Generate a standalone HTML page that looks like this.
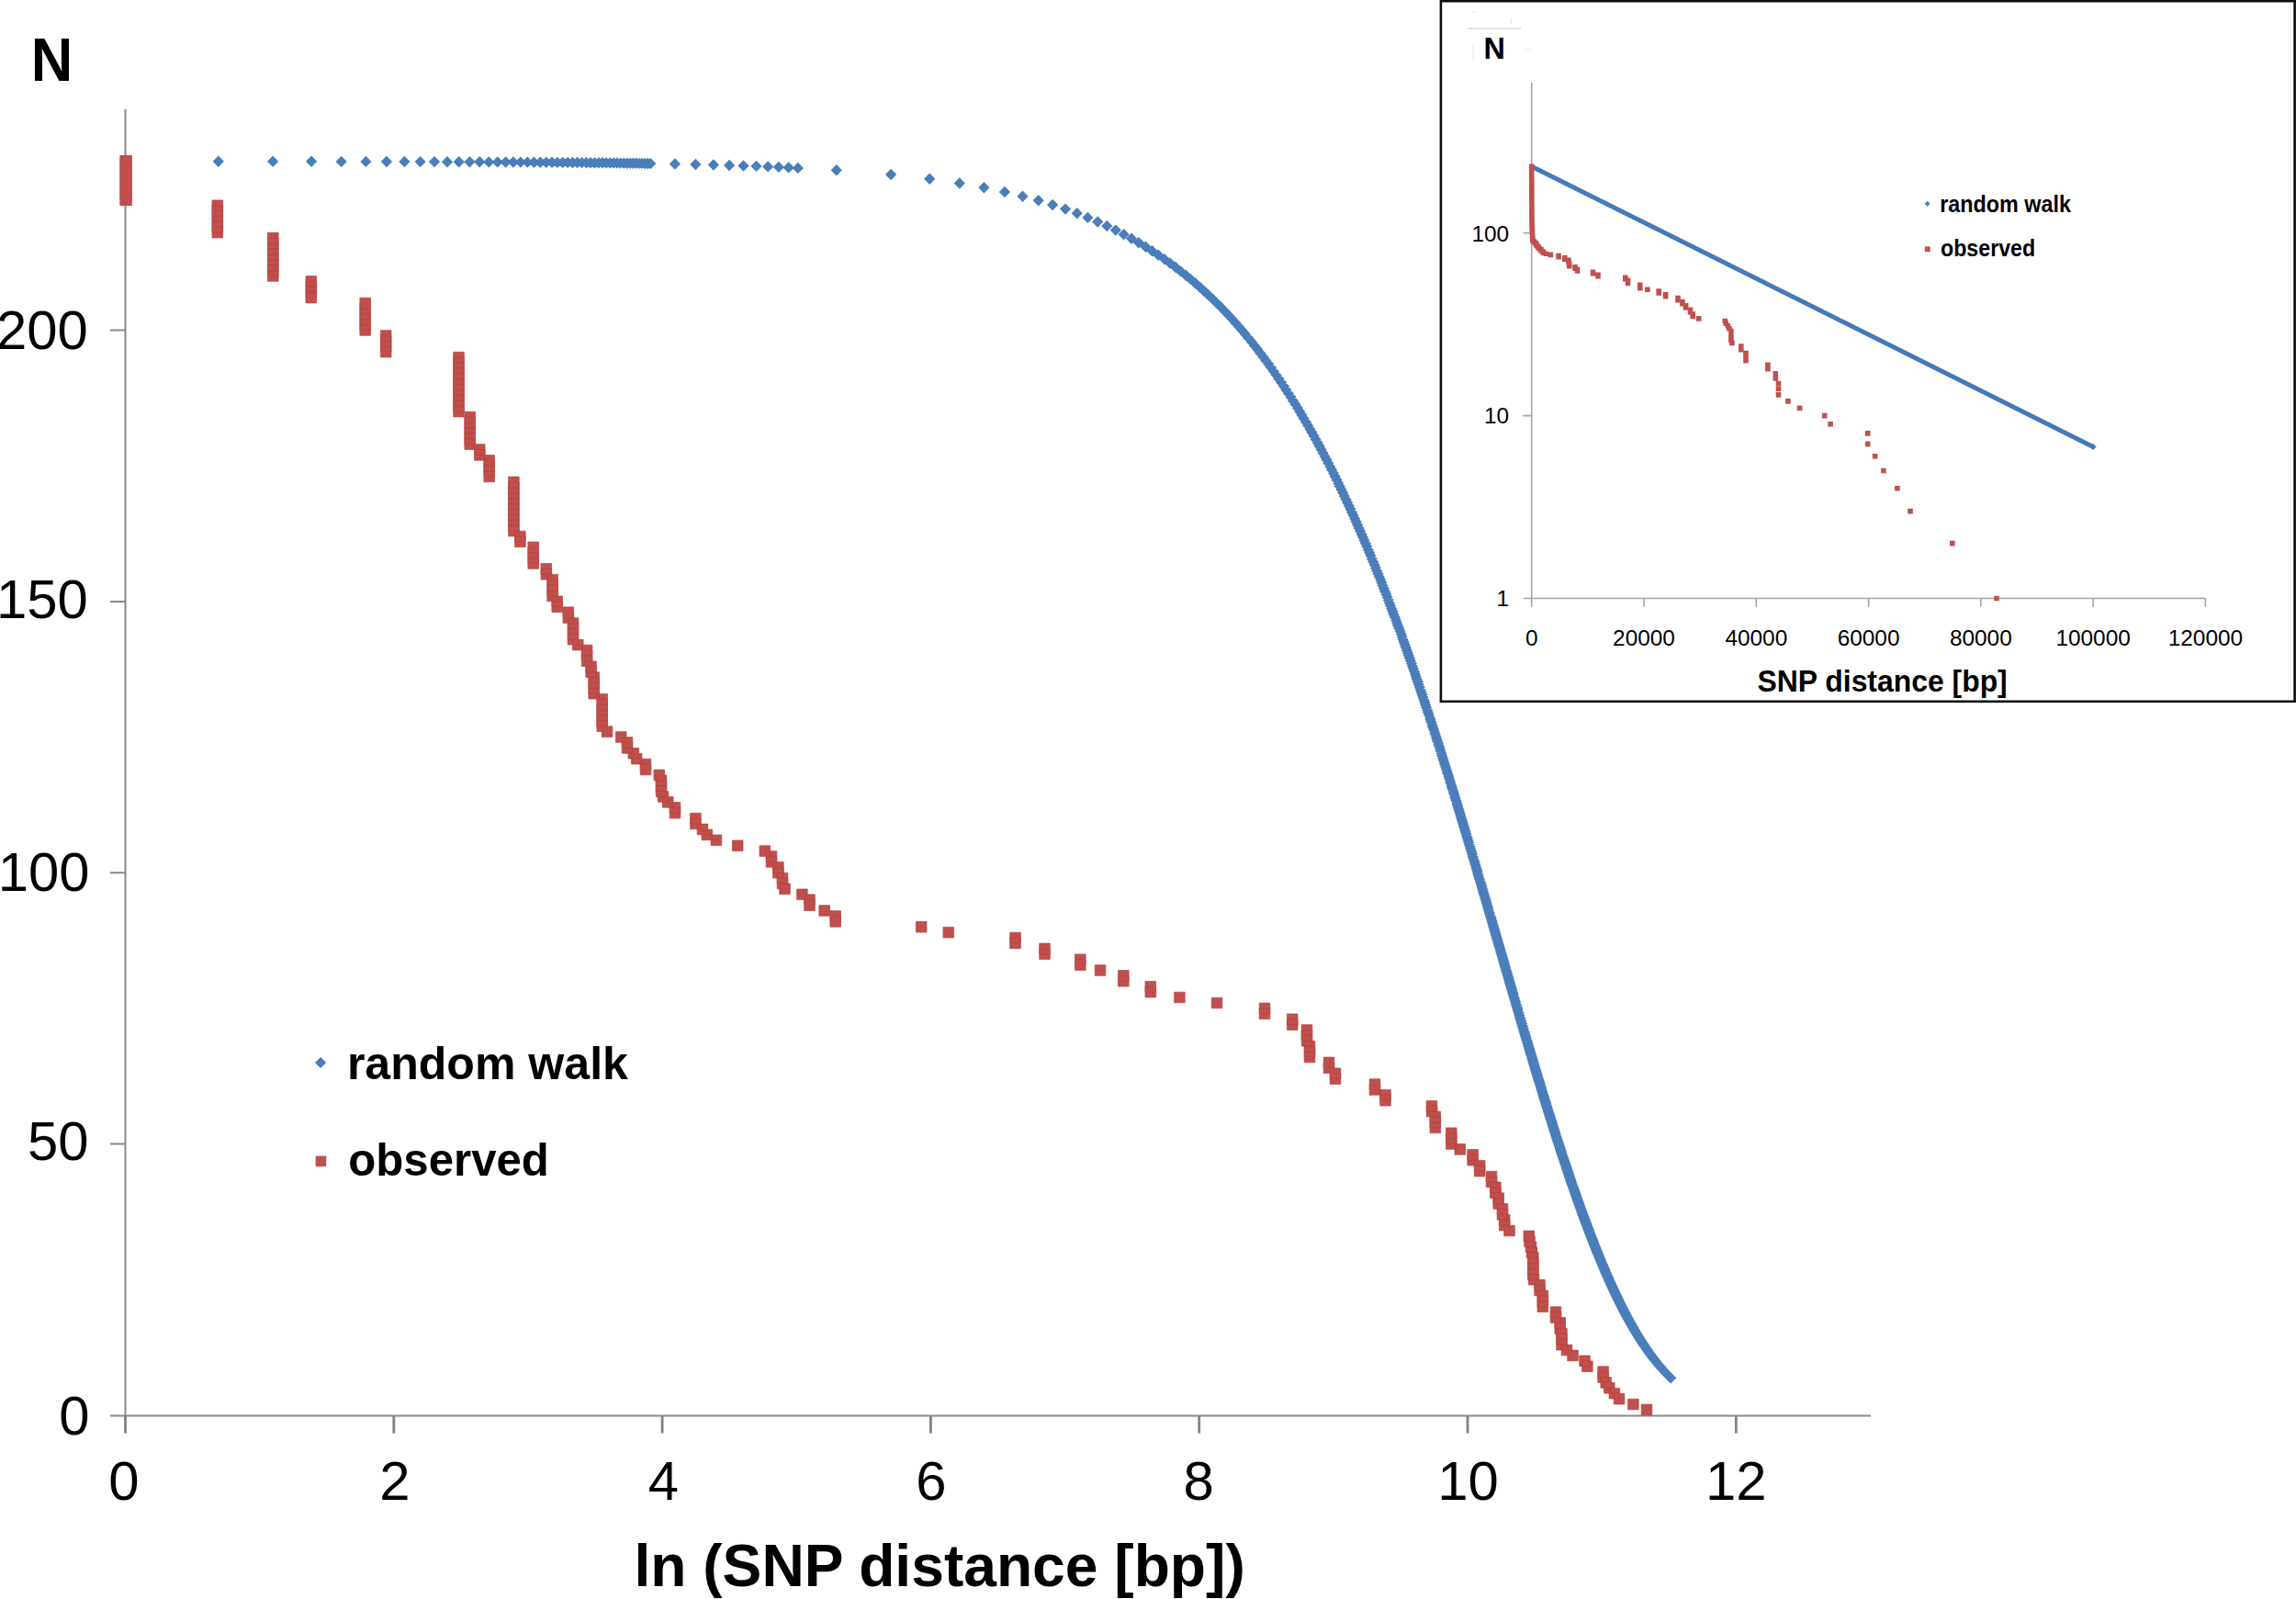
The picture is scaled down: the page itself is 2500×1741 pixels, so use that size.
<!DOCTYPE html>
<html><head><meta charset="utf-8"><title>SNP distance distribution</title>
<style>html,body{margin:0;padding:0;background:#fff;width:2500px;height:1741px;overflow:hidden}svg{display:block}</style>
</head><body>
<svg width="2500" height="1741" viewBox="0 0 2500 1741">
<rect width="2500" height="1741" fill="#fff"/>
<g stroke="#898989" stroke-width="2" fill="none">
<path d="M136.5 119V1541.5M120 1541.5H2037"/>
<path d="M120 1245.5H136.5M120 950.2H136.5M120 654.9H136.5M120 359.5H136.5"/>
<path d="M136.5 1541.5V1560.5M428.8 1541.5V1560.5M721.1 1541.5V1560.5M1013.4 1541.5V1560.5M1305.7 1541.5V1560.5M1598 1541.5V1560.5M1890.3 1541.5V1560.5" stroke-width="2.8" stroke="#828282"/>
</g>
<g style="font-family:'Liberation Sans',Arial,sans-serif" font-size="59.8" text-anchor="end" fill="#000">
<text x="97.5" y="1562">0</text>
<text x="96.4" y="1263">50</text>
<text x="97.6" y="970">100</text>
<text x="95.7" y="672.5">150</text>
<text x="95.7" y="379.5">200</text>
</g>
<g style="font-family:'Liberation Sans',Arial,sans-serif" font-size="59.8" text-anchor="middle" fill="#000">
<text x="135" y="1633">0</text>
<text x="430" y="1633">2</text>
<text x="722.5" y="1633">4</text>
<text x="1014" y="1633">6</text>
<text x="1305.2" y="1633">8</text>
<text x="1598.5" y="1633">10</text>
<text x="1890.3" y="1633">12</text>
</g>
<text x="33.7" y="87.8" style="font-family:'Liberation Sans',Arial,sans-serif" font-weight="bold" font-size="66.3" textLength="45.5" lengthAdjust="spacingAndGlyphs">N</text>
<text x="1023.1" y="1726.5" style="font-family:'Liberation Sans',Arial,sans-serif" font-weight="bold" font-size="64.4" text-anchor="middle" textLength="665.4" lengthAdjust="spacingAndGlyphs">ln (SNP distance [bp])</text>
<path fill="#4a7ebb" d="M130.4 175.7l6.1 -6.2l6.1 6.2l-6.1 6.2zM231.7 175.7l6.1 -6.2l6.1 6.2l-6.1 6.2zM291 175.8l6.1 -6.2l6.1 6.2l-6.1 6.2zM333 175.8l6.1 -6.2l6.1 6.2l-6.1 6.2zM365.6 175.9l6.1 -6.2l6.1 6.2l-6.1 6.2zM392.3 175.9l6.1 -6.2l6.1 6.2l-6.1 6.2zM414.8 176l6.1 -6.2l6.1 6.2l-6.1 6.2zM434.3 176l6.1 -6.2l6.1 6.2l-6.1 6.2zM451.5 176.1l6.1 -6.2l6.1 6.2l-6.1 6.2zM466.9 176.1l6.1 -6.2l6.1 6.2l-6.1 6.2zM480.9 176.2l6.1 -6.2l6.1 6.2l-6.1 6.2zM493.6 176.2l6.1 -6.2l6.1 6.2l-6.1 6.2zM505.3 176.3l6.1 -6.2l6.1 6.2l-6.1 6.2zM516.1 176.3l6.1 -6.2l6.1 6.2l-6.1 6.2zM526.2 176.4l6.1 -6.2l6.1 6.2l-6.1 6.2zM535.6 176.4l6.1 -6.2l6.1 6.2l-6.1 6.2zM544.5 176.5l6.1 -6.2l6.1 6.2l-6.1 6.2zM552.8 176.5l6.1 -6.2l6.1 6.2l-6.1 6.2zM560.7 176.6l6.1 -6.2l6.1 6.2l-6.1 6.2zM568.2 176.6l6.1 -6.2l6.1 6.2l-6.1 6.2zM575.4 176.7l6.1 -6.2l6.1 6.2l-6.1 6.2zM582.2 176.7l6.1 -6.2l6.1 6.2l-6.1 6.2zM588.7 176.8l6.1 -6.2l6.1 6.2l-6.1 6.2zM594.9 176.8l6.1 -6.2l6.1 6.2l-6.1 6.2zM600.8 176.9l6.1 -6.2l6.1 6.2l-6.1 6.2zM606.6 176.9l6.1 -6.2l6.1 6.2l-6.1 6.2zM612.1 176.9l6.1 -6.2l6.1 6.2l-6.1 6.2zM617.4 177l6.1 -6.2l6.1 6.2l-6.1 6.2zM622.5 177l6.1 -6.2l6.1 6.2l-6.1 6.2zM627.5 177.1l6.1 -6.2l6.1 6.2l-6.1 6.2zM632.3 177.1l6.1 -6.2l6.1 6.2l-6.1 6.2zM636.9 177.2l6.1 -6.2l6.1 6.2l-6.1 6.2zM641.4 177.2l6.1 -6.2l6.1 6.2l-6.1 6.2zM645.8 177.3l6.1 -6.2l6.1 6.2l-6.1 6.2zM650 177.3l6.1 -6.2l6.1 6.2l-6.1 6.2zM654.1 177.4l6.1 -6.2l6.1 6.2l-6.1 6.2zM658.1 177.4l6.1 -6.2l6.1 6.2l-6.1 6.2zM662 177.5l6.1 -6.2l6.1 6.2l-6.1 6.2zM665.8 177.5l6.1 -6.2l6.1 6.2l-6.1 6.2zM669.5 177.6l6.1 -6.2l6.1 6.2l-6.1 6.2zM673.1 177.6l6.1 -6.2l6.1 6.2l-6.1 6.2zM676.7 177.7l6.1 -6.2l6.1 6.2l-6.1 6.2zM680.1 177.7l6.1 -6.2l6.1 6.2l-6.1 6.2zM683.5 177.8l6.1 -6.2l6.1 6.2l-6.1 6.2zM686.7 177.8l6.1 -6.2l6.1 6.2l-6.1 6.2zM690 177.9l6.1 -6.2l6.1 6.2l-6.1 6.2zM693.1 177.9l6.1 -6.2l6.1 6.2l-6.1 6.2zM696.2 178l6.1 -6.2l6.1 6.2l-6.1 6.2zM699.2 178l6.1 -6.2l6.1 6.2l-6.1 6.2zM702.1 178.1l6.1 -6.2l6.1 6.2l-6.1 6.2zM728.8 178.5l6.1 -6.2l6.1 6.2l-6.1 6.2zM751.3 179l6.1 -6.2l6.1 6.2l-6.1 6.2zM770.8 179.5l6.1 -6.2l6.1 6.2l-6.1 6.2zM788 180l6.1 -6.2l6.1 6.2l-6.1 6.2zM803.4 180.5l6.1 -6.2l6.1 6.2l-6.1 6.2zM817.4 180.9l6.1 -6.2l6.1 6.2l-6.1 6.2zM830.1 181.4l6.1 -6.2l6.1 6.2l-6.1 6.2zM841.8 181.9l6.1 -6.2l6.1 6.2l-6.1 6.2zM852.6 182.4l6.1 -6.2l6.1 6.2l-6.1 6.2zM862.7 182.9l6.1 -6.2l6.1 6.2l-6.1 6.2zM904.7 185.3l6.1 -6.2l6.1 6.2l-6.1 6.2zM964 190l6.1 -6.2l6.1 6.2l-6.1 6.2zM1006.1 194.8l6.1 -6.2l6.1 6.2l-6.1 6.2zM1038.7 199.5l6.1 -6.2l6.1 6.2l-6.1 6.2zM1065.3 204.3l6.1 -6.2l6.1 6.2l-6.1 6.2zM1087.8 209l6.1 -6.2l6.1 6.2l-6.1 6.2zM1107.4 213.7l6.1 -6.2l6.1 6.2l-6.1 6.2zM1124.6 218.3l6.1 -6.2l6.1 6.2l-6.1 6.2zM1140 223l6.1 -6.2l6.1 6.2l-6.1 6.2zM1153.9 227.6l6.1 -6.2l6.1 6.2l-6.1 6.2zM1166.6 232.3l6.1 -6.2l6.1 6.2l-6.1 6.2zM1178.3 236.9l6.1 -6.2l6.1 6.2l-6.1 6.2zM1189.1 241.5l6.1 -6.2l6.1 6.2l-6.1 6.2zM1199.2 246.1l6.1 -6.2l6.1 6.2l-6.1 6.2zM1208.7 250.6l6.1 -6.2l6.1 6.2l-6.1 6.2zM1217.5 255.2l6.1 -6.2l6.1 6.2l-6.1 6.2zM1225.9 259.7l6.1 -6.2l6.1 6.2l-6.1 6.2zM1233.8 264.2l6.1 -6.2l6.1 6.2l-6.1 6.2zM1241.3 268.7l6.1 -6.2l6.1 6.2l-6.1 6.2zM1248.4 273.2l6.1 -6.2l6.1 6.2l-6.1 6.2zM1255.2 277.7l6.1 -6.2l6.1 6.2l-6.1 6.2zM1261.7 282.1l6.1 -6.2l6.1 6.2l-6.1 6.2zM1267.9 286.5l6.1 -6.2l6.1 6.2l-6.1 6.2zM1273.9 291l6.1 -6.2l6.1 6.2l-6.1 6.2zM1279.6 295.4l6.1 -6.2l6.1 6.2l-6.1 6.2zM1285.1 299.8l6.1 -6.2l6.1 6.2l-6.1 6.2zM1290.4 304.1l6.1 -6.2l6.1 6.2l-6.1 6.2zM1295.6 308.5l6.1 -6.2l6.1 6.2l-6.1 6.2zM1300.5 312.8l6.1 -6.2l6.1 6.2l-6.1 6.2zM1305.3 317.2l6.1 -6.2l6.1 6.2l-6.1 6.2zM1310 321.5l6.1 -6.2l6.1 6.2l-6.1 6.2zM1314.5 325.8l6.1 -6.2l6.1 6.2l-6.1 6.2zM1318.8 330.1l6.1 -6.2l6.1 6.2l-6.1 6.2zM1323.1 334.3l6.1 -6.2l6.1 6.2l-6.1 6.2zM1327.2 338.6l6.1 -6.2l6.1 6.2l-6.1 6.2zM1331.2 342.8l6.1 -6.2l6.1 6.2l-6.1 6.2zM1335.1 347l6.1 -6.2l6.1 6.2l-6.1 6.2zM1338.9 351.2l6.1 -6.2l6.1 6.2l-6.1 6.2zM1342.6 355.4l6.1 -6.2l6.1 6.2l-6.1 6.2zM1346.2 359.6l6.1 -6.2l6.1 6.2l-6.1 6.2zM1349.7 363.8l6.1 -6.2l6.1 6.2l-6.1 6.2zM1353.1 367.9l6.1 -6.2l6.1 6.2l-6.1 6.2zM1356.5 372l6.1 -6.2l6.1 6.2l-6.1 6.2zM1359.8 376.2l6.1 -6.2l6.1 6.2l-6.1 6.2zM1363 380.3l6.1 -6.2l6.1 6.2l-6.1 6.2zM1366.1 384.4l6.1 -6.2l6.1 6.2l-6.1 6.2zM1369.2 388.4l6.1 -6.2l6.1 6.2l-6.1 6.2zM1372.2 392.5l6.1 -6.2l6.1 6.2l-6.1 6.2zM1375.2 396.5l6.1 -6.2l6.1 6.2l-6.1 6.2zM1378.1 400.6l6.1 -6.2l6.1 6.2l-6.1 6.2zM1380.9 404.6l6.1 -6.2l6.1 6.2l-6.1 6.2zM1383.7 408.6l6.1 -6.2l6.1 6.2l-6.1 6.2zM1386.4 412.6l6.1 -6.2l6.1 6.2l-6.1 6.2zM1389.1 416.6l6.1 -6.2l6.1 6.2l-6.1 6.2zM1391.8 420.5l6.1 -6.2l6.1 6.2l-6.1 6.2zM1394.3 424.5l6.1 -6.2l6.1 6.2l-6.1 6.2zM1396.9 428.4l6.1 -6.2l6.1 6.2l-6.1 6.2zM1399.4 432.3l6.1 -6.2l6.1 6.2l-6.1 6.2zM1401.8 436.2l6.1 -6.2l6.1 6.2l-6.1 6.2zM1404.2 440.1l6.1 -6.2l6.1 6.2l-6.1 6.2zM1406.6 444l6.1 -6.2l6.1 6.2l-6.1 6.2zM1409 447.9l6.1 -6.2l6.1 6.2l-6.1 6.2zM1411.3 451.7l6.1 -6.2l6.1 6.2l-6.1 6.2zM1413.5 455.6l6.1 -6.2l6.1 6.2l-6.1 6.2zM1415.8 459.4l6.1 -6.2l6.1 6.2l-6.1 6.2zM1418 463.2l6.1 -6.2l6.1 6.2l-6.1 6.2zM1420.1 467l6.1 -6.2l6.1 6.2l-6.1 6.2zM1422.3 470.8l6.1 -6.2l6.1 6.2l-6.1 6.2zM1424.4 474.5l6.1 -6.2l6.1 6.2l-6.1 6.2zM1426.4 478.3l6.1 -6.2l6.1 6.2l-6.1 6.2zM1428.5 482l6.1 -6.2l6.1 6.2l-6.1 6.2zM1430.5 485.8l6.1 -6.2l6.1 6.2l-6.1 6.2zM1432.5 489.5l6.1 -6.2l6.1 6.2l-6.1 6.2zM1434.4 493.2l6.1 -6.2l6.1 6.2l-6.1 6.2zM1436.4 496.9l6.1 -6.2l6.1 6.2l-6.1 6.2zM1438.3 500.6l6.1 -6.2l6.1 6.2l-6.1 6.2zM1440.2 504.2l6.1 -6.2l6.1 6.2l-6.1 6.2zM1442 507.9l6.1 -6.2l6.1 6.2l-6.1 6.2zM1443.9 511.5l6.1 -6.2l6.1 6.2l-6.1 6.2zM1445.7 515.1l6.1 -6.2l6.1 6.2l-6.1 6.2zM1447.5 518.8l6.1 -6.2l6.1 6.2l-6.1 6.2zM1449.3 522.4l6.1 -6.2l6.1 6.2l-6.1 6.2zM1451 526l6.1 -6.2l6.1 6.2l-6.1 6.2zM1452.7 529.5l6.1 -6.2l6.1 6.2l-6.1 6.2zM1454.4 533.1l6.1 -6.2l6.1 6.2l-6.1 6.2zM1456.1 536.6l6.1 -6.2l6.1 6.2l-6.1 6.2zM1457.8 540.2l6.1 -6.2l6.1 6.2l-6.1 6.2zM1459.5 543.7l6.1 -6.2l6.1 6.2l-6.1 6.2zM1461.1 547.2l6.1 -6.2l6.1 6.2l-6.1 6.2zM1462.7 550.7l6.1 -6.2l6.1 6.2l-6.1 6.2zM1464.3 554.2l6.1 -6.2l6.1 6.2l-6.1 6.2zM1465.9 557.7l6.1 -6.2l6.1 6.2l-6.1 6.2zM1467.4 561.1l6.1 -6.2l6.1 6.2l-6.1 6.2zM1469 564.6l6.1 -6.2l6.1 6.2l-6.1 6.2zM1470.5 568l6.1 -6.2l6.1 6.2l-6.1 6.2zM1472 571.5l6.1 -6.2l6.1 6.2l-6.1 6.2zM1473.5 574.9l6.1 -6.2l6.1 6.2l-6.1 6.2zM1475 578.3l6.1 -6.2l6.1 6.2l-6.1 6.2zM1476.5 581.7l6.1 -6.2l6.1 6.2l-6.1 6.2zM1477.9 585.1l6.1 -6.2l6.1 6.2l-6.1 6.2zM1479.4 588.4l6.1 -6.2l6.1 6.2l-6.1 6.2zM1480.8 591.8l6.1 -6.2l6.1 6.2l-6.1 6.2zM1482.2 595.1l6.1 -6.2l6.1 6.2l-6.1 6.2zM1483.6 598.5l6.1 -6.2l6.1 6.2l-6.1 6.2zM1485 601.8l6.1 -6.2l6.1 6.2l-6.1 6.2zM1486.4 605.1l6.1 -6.2l6.1 6.2l-6.1 6.2zM1487.7 608.4l6.1 -6.2l6.1 6.2l-6.1 6.2zM1489.1 611.7l6.1 -6.2l6.1 6.2l-6.1 6.2zM1490.4 614.9l6.1 -6.2l6.1 6.2l-6.1 6.2zM1491.7 618.2l6.1 -6.2l6.1 6.2l-6.1 6.2zM1493.1 621.4l6.1 -6.2l6.1 6.2l-6.1 6.2zM1494.4 624.7l6.1 -6.2l6.1 6.2l-6.1 6.2zM1495.6 627.9l6.1 -6.2l6.1 6.2l-6.1 6.2zM1496.9 631.1l6.1 -6.2l6.1 6.2l-6.1 6.2zM1498.2 634.3l6.1 -6.2l6.1 6.2l-6.1 6.2zM1499.4 637.5l6.1 -6.2l6.1 6.2l-6.1 6.2zM1500.7 640.7l6.1 -6.2l6.1 6.2l-6.1 6.2zM1501.9 643.9l6.1 -6.2l6.1 6.2l-6.1 6.2zM1503.1 647l6.1 -6.2l6.1 6.2l-6.1 6.2zM1504.4 650.2l6.1 -6.2l6.1 6.2l-6.1 6.2zM1505.6 653.3l6.1 -6.2l6.1 6.2l-6.1 6.2zM1506.7 656.5l6.1 -6.2l6.1 6.2l-6.1 6.2zM1507.9 659.6l6.1 -6.2l6.1 6.2l-6.1 6.2zM1509.1 662.7l6.1 -6.2l6.1 6.2l-6.1 6.2zM1510.3 665.8l6.1 -6.2l6.1 6.2l-6.1 6.2zM1511.4 668.9l6.1 -6.2l6.1 6.2l-6.1 6.2zM1512.6 671.9l6.1 -6.2l6.1 6.2l-6.1 6.2zM1513.7 675l6.1 -6.2l6.1 6.2l-6.1 6.2zM1514.8 678l6.1 -6.2l6.1 6.2l-6.1 6.2zM1516 681.1l6.1 -6.2l6.1 6.2l-6.1 6.2zM1517.1 684.1l6.1 -6.2l6.1 6.2l-6.1 6.2zM1518.2 687.1l6.1 -6.2l6.1 6.2l-6.1 6.2zM1519.3 690.1l6.1 -6.2l6.1 6.2l-6.1 6.2zM1520.4 693.1l6.1 -6.2l6.1 6.2l-6.1 6.2zM1521.4 696.1l6.1 -6.2l6.1 6.2l-6.1 6.2zM1522.5 699.1l6.1 -6.2l6.1 6.2l-6.1 6.2zM1523.6 702.1l6.1 -6.2l6.1 6.2l-6.1 6.2zM1524.6 705l6.1 -6.2l6.1 6.2l-6.1 6.2zM1525.7 708l6.1 -6.2l6.1 6.2l-6.1 6.2zM1526.7 710.9l6.1 -6.2l6.1 6.2l-6.1 6.2zM1527.7 713.8l6.1 -6.2l6.1 6.2l-6.1 6.2zM1528.8 716.7l6.1 -6.2l6.1 6.2l-6.1 6.2zM1529.8 719.6l6.1 -6.2l6.1 6.2l-6.1 6.2zM1530.8 722.5l6.1 -6.2l6.1 6.2l-6.1 6.2zM1531.8 725.4l6.1 -6.2l6.1 6.2l-6.1 6.2zM1532.8 728.3l6.1 -6.2l6.1 6.2l-6.1 6.2zM1533.8 731.1l6.1 -6.2l6.1 6.2l-6.1 6.2zM1534.8 734l6.1 -6.2l6.1 6.2l-6.1 6.2zM1535.7 736.8l6.1 -6.2l6.1 6.2l-6.1 6.2zM1536.7 739.7l6.1 -6.2l6.1 6.2l-6.1 6.2zM1537.7 742.5l6.1 -6.2l6.1 6.2l-6.1 6.2zM1538.6 745.3l6.1 -6.2l6.1 6.2l-6.1 6.2zM1539.6 748.1l6.1 -6.2l6.1 6.2l-6.1 6.2zM1540.5 750.9l6.1 -6.2l6.1 6.2l-6.1 6.2zM1541.5 753.7l6.1 -6.2l6.1 6.2l-6.1 6.2zM1542.4 756.5l6.1 -6.2l6.1 6.2l-6.1 6.2zM1543.3 759.2l6.1 -6.2l6.1 6.2l-6.1 6.2zM1544.3 762l6.1 -6.2l6.1 6.2l-6.1 6.2zM1545.2 764.7l6.1 -6.2l6.1 6.2l-6.1 6.2zM1546.1 767.4l6.1 -6.2l6.1 6.2l-6.1 6.2zM1547 770.2l6.1 -6.2l6.1 6.2l-6.1 6.2zM1547.9 772.9l6.1 -6.2l6.1 6.2l-6.1 6.2zM1548.8 775.6l6.1 -6.2l6.1 6.2l-6.1 6.2zM1549.7 778.3l6.1 -6.2l6.1 6.2l-6.1 6.2zM1550.6 781l6.1 -6.2l6.1 6.2l-6.1 6.2zM1551.4 783.6l6.1 -6.2l6.1 6.2l-6.1 6.2zM1552.3 786.3l6.1 -6.2l6.1 6.2l-6.1 6.2zM1553.2 789l6.1 -6.2l6.1 6.2l-6.1 6.2zM1554 791.6l6.1 -6.2l6.1 6.2l-6.1 6.2zM1554.9 794.3l6.1 -6.2l6.1 6.2l-6.1 6.2zM1555.8 796.9l6.1 -6.2l6.1 6.2l-6.1 6.2zM1556.6 799.5l6.1 -6.2l6.1 6.2l-6.1 6.2zM1557.4 802.1l6.1 -6.2l6.1 6.2l-6.1 6.2zM1558.3 804.7l6.1 -6.2l6.1 6.2l-6.1 6.2zM1559.1 807.3l6.1 -6.2l6.1 6.2l-6.1 6.2zM1559.9 809.9l6.1 -6.2l6.1 6.2l-6.1 6.2zM1560.8 812.5l6.1 -6.2l6.1 6.2l-6.1 6.2zM1561.6 815l6.1 -6.2l6.1 6.2l-6.1 6.2zM1562.4 817.6l6.1 -6.2l6.1 6.2l-6.1 6.2zM1563.2 820.1l6.1 -6.2l6.1 6.2l-6.1 6.2zM1564 822.7l6.1 -6.2l6.1 6.2l-6.1 6.2zM1564.8 825.2l6.1 -6.2l6.1 6.2l-6.1 6.2zM1565.6 827.7l6.1 -6.2l6.1 6.2l-6.1 6.2zM1566.4 830.2l6.1 -6.2l6.1 6.2l-6.1 6.2zM1567.2 832.7l6.1 -6.2l6.1 6.2l-6.1 6.2zM1568 835.2l6.1 -6.2l6.1 6.2l-6.1 6.2zM1568.8 837.7l6.1 -6.2l6.1 6.2l-6.1 6.2zM1569.5 840.2l6.1 -6.2l6.1 6.2l-6.1 6.2zM1570.3 842.7l6.1 -6.2l6.1 6.2l-6.1 6.2zM1571.1 845.1l6.1 -6.2l6.1 6.2l-6.1 6.2zM1571.8 847.6l6.1 -6.2l6.1 6.2l-6.1 6.2zM1572.6 850l6.1 -6.2l6.1 6.2l-6.1 6.2zM1573.3 852.5l6.1 -6.2l6.1 6.2l-6.1 6.2zM1574.1 854.9l6.1 -6.2l6.1 6.2l-6.1 6.2zM1574.8 857.3l6.1 -6.2l6.1 6.2l-6.1 6.2zM1575.6 859.7l6.1 -6.2l6.1 6.2l-6.1 6.2zM1576.3 862.1l6.1 -6.2l6.1 6.2l-6.1 6.2zM1577.1 864.5l6.1 -6.2l6.1 6.2l-6.1 6.2zM1577.8 866.9l6.1 -6.2l6.1 6.2l-6.1 6.2zM1578.5 869.2l6.1 -6.2l6.1 6.2l-6.1 6.2zM1579.2 871.6l6.1 -6.2l6.1 6.2l-6.1 6.2zM1580 874l6.1 -6.2l6.1 6.2l-6.1 6.2zM1580.7 876.3l6.1 -6.2l6.1 6.2l-6.1 6.2zM1581.4 878.7l6.1 -6.2l6.1 6.2l-6.1 6.2zM1582.1 881l6.1 -6.2l6.1 6.2l-6.1 6.2zM1582.8 883.3l6.1 -6.2l6.1 6.2l-6.1 6.2zM1583.5 885.6l6.1 -6.2l6.1 6.2l-6.1 6.2zM1584.2 887.9l6.1 -6.2l6.1 6.2l-6.1 6.2zM1584.9 890.2l6.1 -6.2l6.1 6.2l-6.1 6.2zM1585.6 892.5l6.1 -6.2l6.1 6.2l-6.1 6.2zM1586.3 894.8l6.1 -6.2l6.1 6.2l-6.1 6.2zM1587 897.1l6.1 -6.2l6.1 6.2l-6.1 6.2zM1587.7 899.4l6.1 -6.2l6.1 6.2l-6.1 6.2zM1588.4 901.6l6.1 -6.2l6.1 6.2l-6.1 6.2zM1589 903.9l6.1 -6.2l6.1 6.2l-6.1 6.2zM1589.7 906.1l6.1 -6.2l6.1 6.2l-6.1 6.2zM1590.4 908.3l6.1 -6.2l6.1 6.2l-6.1 6.2zM1591.1 910.6l6.1 -6.2l6.1 6.2l-6.1 6.2zM1591.7 912.8l6.1 -6.2l6.1 6.2l-6.1 6.2zM1592.4 915l6.1 -6.2l6.1 6.2l-6.1 6.2zM1593 917.2l6.1 -6.2l6.1 6.2l-6.1 6.2zM1593.7 919.4l6.1 -6.2l6.1 6.2l-6.1 6.2zM1594.4 921.6l6.1 -6.2l6.1 6.2l-6.1 6.2zM1595 923.8l6.1 -6.2l6.1 6.2l-6.1 6.2zM1595.7 925.9l6.1 -6.2l6.1 6.2l-6.1 6.2zM1596.3 928.1l6.1 -6.2l6.1 6.2l-6.1 6.2zM1596.9 930.3l6.1 -6.2l6.1 6.2l-6.1 6.2zM1597.6 932.4l6.1 -6.2l6.1 6.2l-6.1 6.2zM1598.2 934.6l6.1 -6.2l6.1 6.2l-6.1 6.2zM1598.9 936.7l6.1 -6.2l6.1 6.2l-6.1 6.2zM1599.5 938.8l6.1 -6.2l6.1 6.2l-6.1 6.2zM1600.1 940.9l6.1 -6.2l6.1 6.2l-6.1 6.2zM1600.7 943.1l6.1 -6.2l6.1 6.2l-6.1 6.2zM1601.4 945.2l6.1 -6.2l6.1 6.2l-6.1 6.2zM1602 947.3l6.1 -6.2l6.1 6.2l-6.1 6.2zM1602.6 949.3l6.1 -6.2l6.1 6.2l-6.1 6.2zM1603.2 951.4l6.1 -6.2l6.1 6.2l-6.1 6.2zM1603.8 953.5l6.1 -6.2l6.1 6.2l-6.1 6.2zM1604.4 955.6l6.1 -6.2l6.1 6.2l-6.1 6.2zM1605 957.6l6.1 -6.2l6.1 6.2l-6.1 6.2zM1605.7 959.7l6.1 -6.2l6.1 6.2l-6.1 6.2zM1606.3 961.7l6.1 -6.2l6.1 6.2l-6.1 6.2zM1606.9 963.8l6.1 -6.2l6.1 6.2l-6.1 6.2zM1607.5 965.8l6.1 -6.2l6.1 6.2l-6.1 6.2zM1608 967.8l6.1 -6.2l6.1 6.2l-6.1 6.2zM1608.6 969.8l6.1 -6.2l6.1 6.2l-6.1 6.2zM1609.2 971.9l6.1 -6.2l6.1 6.2l-6.1 6.2zM1609.8 973.9l6.1 -6.2l6.1 6.2l-6.1 6.2zM1610.4 975.9l6.1 -6.2l6.1 6.2l-6.1 6.2zM1611 977.8l6.1 -6.2l6.1 6.2l-6.1 6.2zM1611.6 979.8l6.1 -6.2l6.1 6.2l-6.1 6.2zM1612.2 981.8l6.1 -6.2l6.1 6.2l-6.1 6.2zM1612.7 983.8l6.1 -6.2l6.1 6.2l-6.1 6.2zM1613.3 985.7l6.1 -6.2l6.1 6.2l-6.1 6.2zM1613.9 987.7l6.1 -6.2l6.1 6.2l-6.1 6.2zM1614.4 989.6l6.1 -6.2l6.1 6.2l-6.1 6.2zM1615 991.6l6.1 -6.2l6.1 6.2l-6.1 6.2zM1615.6 993.5l6.1 -6.2l6.1 6.2l-6.1 6.2zM1616.1 995.4l6.1 -6.2l6.1 6.2l-6.1 6.2zM1616.7 997.4l6.1 -6.2l6.1 6.2l-6.1 6.2zM1617.3 999.3l6.1 -6.2l6.1 6.2l-6.1 6.2zM1617.8 1001.2l6.1 -6.2l6.1 6.2l-6.1 6.2zM1618.4 1003.1l6.1 -6.2l6.1 6.2l-6.1 6.2zM1618.9 1005l6.1 -6.2l6.1 6.2l-6.1 6.2zM1619.5 1006.9l6.1 -6.2l6.1 6.2l-6.1 6.2zM1620 1008.7l6.1 -6.2l6.1 6.2l-6.1 6.2zM1620.6 1010.6l6.1 -6.2l6.1 6.2l-6.1 6.2zM1621.1 1012.5l6.1 -6.2l6.1 6.2l-6.1 6.2zM1621.7 1014.3l6.1 -6.2l6.1 6.2l-6.1 6.2zM1622.2 1016.2l6.1 -6.2l6.1 6.2l-6.1 6.2zM1622.7 1018l6.1 -6.2l6.1 6.2l-6.1 6.2zM1623.3 1019.9l6.1 -6.2l6.1 6.2l-6.1 6.2zM1623.8 1021.7l6.1 -6.2l6.1 6.2l-6.1 6.2zM1624.3 1023.5l6.1 -6.2l6.1 6.2l-6.1 6.2zM1624.9 1025.4l6.1 -6.2l6.1 6.2l-6.1 6.2zM1625.4 1027.2l6.1 -6.2l6.1 6.2l-6.1 6.2zM1625.9 1029l6.1 -6.2l6.1 6.2l-6.1 6.2zM1626.4 1030.8l6.1 -6.2l6.1 6.2l-6.1 6.2zM1627 1032.6l6.1 -6.2l6.1 6.2l-6.1 6.2zM1627.5 1034.4l6.1 -6.2l6.1 6.2l-6.1 6.2zM1628 1036.2l6.1 -6.2l6.1 6.2l-6.1 6.2zM1628.5 1037.9l6.1 -6.2l6.1 6.2l-6.1 6.2zM1629 1039.7l6.1 -6.2l6.1 6.2l-6.1 6.2zM1629.6 1041.5l6.1 -6.2l6.1 6.2l-6.1 6.2zM1630.1 1043.2l6.1 -6.2l6.1 6.2l-6.1 6.2zM1630.6 1045l6.1 -6.2l6.1 6.2l-6.1 6.2zM1631.1 1046.7l6.1 -6.2l6.1 6.2l-6.1 6.2zM1631.6 1048.5l6.1 -6.2l6.1 6.2l-6.1 6.2zM1632.1 1050.2l6.1 -6.2l6.1 6.2l-6.1 6.2zM1632.6 1051.9l6.1 -6.2l6.1 6.2l-6.1 6.2zM1633.1 1053.6l6.1 -6.2l6.1 6.2l-6.1 6.2zM1633.6 1055.4l6.1 -6.2l6.1 6.2l-6.1 6.2zM1634.1 1057.1l6.1 -6.2l6.1 6.2l-6.1 6.2zM1634.6 1058.8l6.1 -6.2l6.1 6.2l-6.1 6.2zM1635.1 1060.5l6.1 -6.2l6.1 6.2l-6.1 6.2zM1635.6 1062.2l6.1 -6.2l6.1 6.2l-6.1 6.2zM1636.1 1063.8l6.1 -6.2l6.1 6.2l-6.1 6.2zM1636.6 1065.5l6.1 -6.2l6.1 6.2l-6.1 6.2zM1637.1 1067.2l6.1 -6.2l6.1 6.2l-6.1 6.2zM1637.5 1068.9l6.1 -6.2l6.1 6.2l-6.1 6.2zM1638 1070.5l6.1 -6.2l6.1 6.2l-6.1 6.2zM1638.5 1072.2l6.1 -6.2l6.1 6.2l-6.1 6.2zM1639 1073.8l6.1 -6.2l6.1 6.2l-6.1 6.2zM1639.5 1075.5l6.1 -6.2l6.1 6.2l-6.1 6.2zM1639.9 1077.1l6.1 -6.2l6.1 6.2l-6.1 6.2zM1640.4 1078.7l6.1 -6.2l6.1 6.2l-6.1 6.2zM1640.9 1080.4l6.1 -6.2l6.1 6.2l-6.1 6.2zM1641.4 1082l6.1 -6.2l6.1 6.2l-6.1 6.2zM1641.8 1083.6l6.1 -6.2l6.1 6.2l-6.1 6.2zM1642.3 1085.2l6.1 -6.2l6.1 6.2l-6.1 6.2zM1642.8 1086.8l6.1 -6.2l6.1 6.2l-6.1 6.2zM1643.3 1088.4l6.1 -6.2l6.1 6.2l-6.1 6.2zM1643.7 1090l6.1 -6.2l6.1 6.2l-6.1 6.2zM1644.2 1091.6l6.1 -6.2l6.1 6.2l-6.1 6.2zM1644.6 1093.2l6.1 -6.2l6.1 6.2l-6.1 6.2zM1645.1 1094.8l6.1 -6.2l6.1 6.2l-6.1 6.2zM1645.6 1096.3l6.1 -6.2l6.1 6.2l-6.1 6.2zM1646 1097.9l6.1 -6.2l6.1 6.2l-6.1 6.2zM1646.5 1099.5l6.1 -6.2l6.1 6.2l-6.1 6.2zM1646.9 1101l6.1 -6.2l6.1 6.2l-6.1 6.2zM1647.4 1102.6l6.1 -6.2l6.1 6.2l-6.1 6.2zM1647.8 1104.1l6.1 -6.2l6.1 6.2l-6.1 6.2zM1648.3 1105.6l6.1 -6.2l6.1 6.2l-6.1 6.2zM1648.8 1107.2l6.1 -6.2l6.1 6.2l-6.1 6.2zM1649.2 1108.7l6.1 -6.2l6.1 6.2l-6.1 6.2zM1649.6 1110.2l6.1 -6.2l6.1 6.2l-6.1 6.2zM1650.1 1111.7l6.1 -6.2l6.1 6.2l-6.1 6.2zM1650.5 1113.2l6.1 -6.2l6.1 6.2l-6.1 6.2zM1651 1114.7l6.1 -6.2l6.1 6.2l-6.1 6.2zM1651.4 1116.2l6.1 -6.2l6.1 6.2l-6.1 6.2zM1651.9 1117.7l6.1 -6.2l6.1 6.2l-6.1 6.2zM1652.3 1119.2l6.1 -6.2l6.1 6.2l-6.1 6.2zM1652.7 1120.7l6.1 -6.2l6.1 6.2l-6.1 6.2zM1653.2 1122.2l6.1 -6.2l6.1 6.2l-6.1 6.2zM1653.6 1123.7l6.1 -6.2l6.1 6.2l-6.1 6.2zM1654.1 1125.1l6.1 -6.2l6.1 6.2l-6.1 6.2zM1654.5 1126.6l6.1 -6.2l6.1 6.2l-6.1 6.2zM1654.9 1128.1l6.1 -6.2l6.1 6.2l-6.1 6.2zM1655.3 1129.5l6.1 -6.2l6.1 6.2l-6.1 6.2zM1655.8 1131l6.1 -6.2l6.1 6.2l-6.1 6.2zM1656.2 1132.4l6.1 -6.2l6.1 6.2l-6.1 6.2zM1656.6 1133.8l6.1 -6.2l6.1 6.2l-6.1 6.2zM1657.1 1135.3l6.1 -6.2l6.1 6.2l-6.1 6.2zM1657.5 1136.7l6.1 -6.2l6.1 6.2l-6.1 6.2zM1657.9 1138.1l6.1 -6.2l6.1 6.2l-6.1 6.2zM1658.3 1139.5l6.1 -6.2l6.1 6.2l-6.1 6.2zM1658.7 1140.9l6.1 -6.2l6.1 6.2l-6.1 6.2zM1659.2 1142.4l6.1 -6.2l6.1 6.2l-6.1 6.2zM1659.6 1143.8l6.1 -6.2l6.1 6.2l-6.1 6.2zM1660 1145.2l6.1 -6.2l6.1 6.2l-6.1 6.2zM1660.4 1146.5l6.1 -6.2l6.1 6.2l-6.1 6.2zM1660.8 1147.9l6.1 -6.2l6.1 6.2l-6.1 6.2zM1661.2 1149.3l6.1 -6.2l6.1 6.2l-6.1 6.2zM1661.7 1150.7l6.1 -6.2l6.1 6.2l-6.1 6.2zM1662.1 1152.1l6.1 -6.2l6.1 6.2l-6.1 6.2zM1662.5 1153.4l6.1 -6.2l6.1 6.2l-6.1 6.2zM1662.9 1154.8l6.1 -6.2l6.1 6.2l-6.1 6.2zM1663.3 1156.2l6.1 -6.2l6.1 6.2l-6.1 6.2zM1663.7 1157.5l6.1 -6.2l6.1 6.2l-6.1 6.2zM1664.1 1158.9l6.1 -6.2l6.1 6.2l-6.1 6.2zM1664.5 1160.2l6.1 -6.2l6.1 6.2l-6.1 6.2zM1664.9 1161.5l6.1 -6.2l6.1 6.2l-6.1 6.2zM1665.3 1162.9l6.1 -6.2l6.1 6.2l-6.1 6.2zM1665.7 1164.2l6.1 -6.2l6.1 6.2l-6.1 6.2zM1666.1 1165.5l6.1 -6.2l6.1 6.2l-6.1 6.2zM1666.5 1166.9l6.1 -6.2l6.1 6.2l-6.1 6.2zM1666.9 1168.2l6.1 -6.2l6.1 6.2l-6.1 6.2zM1667.3 1169.5l6.1 -6.2l6.1 6.2l-6.1 6.2zM1667.7 1170.8l6.1 -6.2l6.1 6.2l-6.1 6.2zM1668.1 1172.1l6.1 -6.2l6.1 6.2l-6.1 6.2zM1668.5 1173.4l6.1 -6.2l6.1 6.2l-6.1 6.2zM1668.9 1174.7l6.1 -6.2l6.1 6.2l-6.1 6.2zM1669.3 1176l6.1 -6.2l6.1 6.2l-6.1 6.2zM1669.7 1177.3l6.1 -6.2l6.1 6.2l-6.1 6.2zM1670.1 1178.5l6.1 -6.2l6.1 6.2l-6.1 6.2zM1670.4 1179.8l6.1 -6.2l6.1 6.2l-6.1 6.2zM1670.8 1181.1l6.1 -6.2l6.1 6.2l-6.1 6.2zM1671.2 1182.3l6.1 -6.2l6.1 6.2l-6.1 6.2zM1671.6 1183.6l6.1 -6.2l6.1 6.2l-6.1 6.2zM1672 1184.9l6.1 -6.2l6.1 6.2l-6.1 6.2zM1672.4 1186.1l6.1 -6.2l6.1 6.2l-6.1 6.2zM1672.8 1187.4l6.1 -6.2l6.1 6.2l-6.1 6.2zM1673.1 1188.6l6.1 -6.2l6.1 6.2l-6.1 6.2zM1673.5 1189.8l6.1 -6.2l6.1 6.2l-6.1 6.2zM1673.9 1191.1l6.1 -6.2l6.1 6.2l-6.1 6.2zM1674.3 1192.3l6.1 -6.2l6.1 6.2l-6.1 6.2zM1674.6 1193.5l6.1 -6.2l6.1 6.2l-6.1 6.2zM1675 1194.8l6.1 -6.2l6.1 6.2l-6.1 6.2zM1675.4 1196l6.1 -6.2l6.1 6.2l-6.1 6.2zM1675.8 1197.2l6.1 -6.2l6.1 6.2l-6.1 6.2zM1676.1 1198.4l6.1 -6.2l6.1 6.2l-6.1 6.2zM1676.5 1199.6l6.1 -6.2l6.1 6.2l-6.1 6.2zM1676.9 1200.8l6.1 -6.2l6.1 6.2l-6.1 6.2zM1677.3 1202l6.1 -6.2l6.1 6.2l-6.1 6.2zM1677.6 1203.2l6.1 -6.2l6.1 6.2l-6.1 6.2zM1678 1204.4l6.1 -6.2l6.1 6.2l-6.1 6.2zM1678.4 1205.6l6.1 -6.2l6.1 6.2l-6.1 6.2zM1678.7 1206.7l6.1 -6.2l6.1 6.2l-6.1 6.2zM1679.1 1207.9l6.1 -6.2l6.1 6.2l-6.1 6.2zM1679.5 1209.1l6.1 -6.2l6.1 6.2l-6.1 6.2zM1679.8 1210.3l6.1 -6.2l6.1 6.2l-6.1 6.2zM1680.2 1211.4l6.1 -6.2l6.1 6.2l-6.1 6.2zM1680.6 1212.6l6.1 -6.2l6.1 6.2l-6.1 6.2zM1680.9 1213.7l6.1 -6.2l6.1 6.2l-6.1 6.2zM1681.3 1214.9l6.1 -6.2l6.1 6.2l-6.1 6.2zM1681.6 1216l6.1 -6.2l6.1 6.2l-6.1 6.2zM1682 1217.2l6.1 -6.2l6.1 6.2l-6.1 6.2zM1682.4 1218.3l6.1 -6.2l6.1 6.2l-6.1 6.2zM1682.7 1219.4l6.1 -6.2l6.1 6.2l-6.1 6.2zM1683.1 1220.6l6.1 -6.2l6.1 6.2l-6.1 6.2zM1683.4 1221.7l6.1 -6.2l6.1 6.2l-6.1 6.2zM1683.8 1222.8l6.1 -6.2l6.1 6.2l-6.1 6.2zM1684.1 1223.9l6.1 -6.2l6.1 6.2l-6.1 6.2zM1684.5 1225.1l6.1 -6.2l6.1 6.2l-6.1 6.2zM1684.8 1226.2l6.1 -6.2l6.1 6.2l-6.1 6.2zM1685.2 1227.3l6.1 -6.2l6.1 6.2l-6.1 6.2zM1685.5 1228.4l6.1 -6.2l6.1 6.2l-6.1 6.2zM1685.9 1229.5l6.1 -6.2l6.1 6.2l-6.1 6.2zM1686.2 1230.6l6.1 -6.2l6.1 6.2l-6.1 6.2zM1686.6 1231.7l6.1 -6.2l6.1 6.2l-6.1 6.2zM1686.9 1232.7l6.1 -6.2l6.1 6.2l-6.1 6.2zM1687.3 1233.8l6.1 -6.2l6.1 6.2l-6.1 6.2zM1687.6 1234.9l6.1 -6.2l6.1 6.2l-6.1 6.2zM1688 1236l6.1 -6.2l6.1 6.2l-6.1 6.2zM1688.3 1237.1l6.1 -6.2l6.1 6.2l-6.1 6.2zM1688.6 1238.1l6.1 -6.2l6.1 6.2l-6.1 6.2zM1689 1239.2l6.1 -6.2l6.1 6.2l-6.1 6.2zM1689.3 1240.3l6.1 -6.2l6.1 6.2l-6.1 6.2zM1689.7 1241.3l6.1 -6.2l6.1 6.2l-6.1 6.2zM1690 1242.4l6.1 -6.2l6.1 6.2l-6.1 6.2zM1690.3 1243.4l6.1 -6.2l6.1 6.2l-6.1 6.2zM1690.7 1244.5l6.1 -6.2l6.1 6.2l-6.1 6.2zM1691 1245.5l6.1 -6.2l6.1 6.2l-6.1 6.2zM1691.4 1246.5l6.1 -6.2l6.1 6.2l-6.1 6.2zM1691.7 1247.6l6.1 -6.2l6.1 6.2l-6.1 6.2zM1692 1248.6l6.1 -6.2l6.1 6.2l-6.1 6.2zM1692.4 1249.6l6.1 -6.2l6.1 6.2l-6.1 6.2zM1692.7 1250.7l6.1 -6.2l6.1 6.2l-6.1 6.2zM1693 1251.7l6.1 -6.2l6.1 6.2l-6.1 6.2zM1693.4 1252.7l6.1 -6.2l6.1 6.2l-6.1 6.2zM1693.7 1253.7l6.1 -6.2l6.1 6.2l-6.1 6.2zM1694 1254.7l6.1 -6.2l6.1 6.2l-6.1 6.2zM1694.4 1255.7l6.1 -6.2l6.1 6.2l-6.1 6.2zM1694.7 1256.7l6.1 -6.2l6.1 6.2l-6.1 6.2zM1695 1257.7l6.1 -6.2l6.1 6.2l-6.1 6.2zM1695.3 1258.7l6.1 -6.2l6.1 6.2l-6.1 6.2zM1695.7 1259.7l6.1 -6.2l6.1 6.2l-6.1 6.2zM1696 1260.7l6.1 -6.2l6.1 6.2l-6.1 6.2zM1696.3 1261.7l6.1 -6.2l6.1 6.2l-6.1 6.2zM1696.6 1262.7l6.1 -6.2l6.1 6.2l-6.1 6.2zM1697 1263.6l6.1 -6.2l6.1 6.2l-6.1 6.2zM1697.3 1264.6l6.1 -6.2l6.1 6.2l-6.1 6.2zM1697.6 1265.6l6.1 -6.2l6.1 6.2l-6.1 6.2zM1697.9 1266.6l6.1 -6.2l6.1 6.2l-6.1 6.2zM1698.2 1267.5l6.1 -6.2l6.1 6.2l-6.1 6.2zM1698.6 1268.5l6.1 -6.2l6.1 6.2l-6.1 6.2zM1698.9 1269.4l6.1 -6.2l6.1 6.2l-6.1 6.2zM1699.2 1270.4l6.1 -6.2l6.1 6.2l-6.1 6.2zM1699.5 1271.3l6.1 -6.2l6.1 6.2l-6.1 6.2zM1699.8 1272.3l6.1 -6.2l6.1 6.2l-6.1 6.2zM1700.2 1273.2l6.1 -6.2l6.1 6.2l-6.1 6.2zM1700.5 1274.2l6.1 -6.2l6.1 6.2l-6.1 6.2zM1700.8 1275.1l6.1 -6.2l6.1 6.2l-6.1 6.2zM1701.1 1276.1l6.1 -6.2l6.1 6.2l-6.1 6.2zM1701.4 1277l6.1 -6.2l6.1 6.2l-6.1 6.2zM1701.7 1277.9l6.1 -6.2l6.1 6.2l-6.1 6.2zM1702 1278.8l6.1 -6.2l6.1 6.2l-6.1 6.2zM1702.4 1279.8l6.1 -6.2l6.1 6.2l-6.1 6.2zM1702.7 1280.7l6.1 -6.2l6.1 6.2l-6.1 6.2zM1703 1281.6l6.1 -6.2l6.1 6.2l-6.1 6.2zM1703.3 1282.5l6.1 -6.2l6.1 6.2l-6.1 6.2zM1703.6 1283.4l6.1 -6.2l6.1 6.2l-6.1 6.2zM1703.9 1284.3l6.1 -6.2l6.1 6.2l-6.1 6.2zM1704.2 1285.2l6.1 -6.2l6.1 6.2l-6.1 6.2zM1704.5 1286.1l6.1 -6.2l6.1 6.2l-6.1 6.2zM1704.8 1287l6.1 -6.2l6.1 6.2l-6.1 6.2zM1705.1 1287.9l6.1 -6.2l6.1 6.2l-6.1 6.2zM1705.4 1288.8l6.1 -6.2l6.1 6.2l-6.1 6.2zM1705.7 1289.7l6.1 -6.2l6.1 6.2l-6.1 6.2zM1706 1290.6l6.1 -6.2l6.1 6.2l-6.1 6.2zM1706.4 1291.4l6.1 -6.2l6.1 6.2l-6.1 6.2zM1706.7 1292.3l6.1 -6.2l6.1 6.2l-6.1 6.2zM1707 1293.2l6.1 -6.2l6.1 6.2l-6.1 6.2zM1707.3 1294.1l6.1 -6.2l6.1 6.2l-6.1 6.2zM1707.6 1294.9l6.1 -6.2l6.1 6.2l-6.1 6.2zM1707.9 1295.8l6.1 -6.2l6.1 6.2l-6.1 6.2zM1708.2 1296.7l6.1 -6.2l6.1 6.2l-6.1 6.2zM1708.5 1297.5l6.1 -6.2l6.1 6.2l-6.1 6.2zM1708.8 1298.4l6.1 -6.2l6.1 6.2l-6.1 6.2zM1709.1 1299.2l6.1 -6.2l6.1 6.2l-6.1 6.2zM1709.4 1300.1l6.1 -6.2l6.1 6.2l-6.1 6.2zM1709.7 1300.9l6.1 -6.2l6.1 6.2l-6.1 6.2zM1709.9 1301.8l6.1 -6.2l6.1 6.2l-6.1 6.2zM1710.2 1302.6l6.1 -6.2l6.1 6.2l-6.1 6.2zM1710.5 1303.4l6.1 -6.2l6.1 6.2l-6.1 6.2zM1710.8 1304.3l6.1 -6.2l6.1 6.2l-6.1 6.2zM1711.1 1305.1l6.1 -6.2l6.1 6.2l-6.1 6.2zM1711.4 1305.9l6.1 -6.2l6.1 6.2l-6.1 6.2zM1711.7 1306.8l6.1 -6.2l6.1 6.2l-6.1 6.2zM1712 1307.6l6.1 -6.2l6.1 6.2l-6.1 6.2zM1712.3 1308.4l6.1 -6.2l6.1 6.2l-6.1 6.2zM1712.6 1309.2l6.1 -6.2l6.1 6.2l-6.1 6.2zM1712.9 1310l6.1 -6.2l6.1 6.2l-6.1 6.2zM1713.2 1310.8l6.1 -6.2l6.1 6.2l-6.1 6.2zM1713.5 1311.6l6.1 -6.2l6.1 6.2l-6.1 6.2zM1713.7 1312.5l6.1 -6.2l6.1 6.2l-6.1 6.2zM1714 1313.3l6.1 -6.2l6.1 6.2l-6.1 6.2zM1714.3 1314.1l6.1 -6.2l6.1 6.2l-6.1 6.2zM1714.6 1314.9l6.1 -6.2l6.1 6.2l-6.1 6.2zM1714.9 1315.6l6.1 -6.2l6.1 6.2l-6.1 6.2zM1715.2 1316.4l6.1 -6.2l6.1 6.2l-6.1 6.2zM1715.5 1317.2l6.1 -6.2l6.1 6.2l-6.1 6.2zM1715.7 1318l6.1 -6.2l6.1 6.2l-6.1 6.2zM1716 1318.8l6.1 -6.2l6.1 6.2l-6.1 6.2zM1716.3 1319.6l6.1 -6.2l6.1 6.2l-6.1 6.2zM1716.6 1320.4l6.1 -6.2l6.1 6.2l-6.1 6.2zM1716.9 1321.1l6.1 -6.2l6.1 6.2l-6.1 6.2zM1717.2 1321.9l6.1 -6.2l6.1 6.2l-6.1 6.2zM1717.4 1322.7l6.1 -6.2l6.1 6.2l-6.1 6.2zM1717.7 1323.4l6.1 -6.2l6.1 6.2l-6.1 6.2zM1718 1324.2l6.1 -6.2l6.1 6.2l-6.1 6.2zM1718.3 1325l6.1 -6.2l6.1 6.2l-6.1 6.2zM1718.6 1325.7l6.1 -6.2l6.1 6.2l-6.1 6.2zM1718.8 1326.5l6.1 -6.2l6.1 6.2l-6.1 6.2zM1719.1 1327.2l6.1 -6.2l6.1 6.2l-6.1 6.2zM1719.4 1328l6.1 -6.2l6.1 6.2l-6.1 6.2zM1719.7 1328.7l6.1 -6.2l6.1 6.2l-6.1 6.2zM1720 1329.5l6.1 -6.2l6.1 6.2l-6.1 6.2zM1720.2 1330.2l6.1 -6.2l6.1 6.2l-6.1 6.2zM1720.5 1331l6.1 -6.2l6.1 6.2l-6.1 6.2zM1720.8 1331.7l6.1 -6.2l6.1 6.2l-6.1 6.2zM1721.1 1332.4l6.1 -6.2l6.1 6.2l-6.1 6.2zM1721.3 1333.2l6.1 -6.2l6.1 6.2l-6.1 6.2zM1721.6 1333.9l6.1 -6.2l6.1 6.2l-6.1 6.2zM1721.9 1334.6l6.1 -6.2l6.1 6.2l-6.1 6.2zM1722.1 1335.3l6.1 -6.2l6.1 6.2l-6.1 6.2zM1722.4 1336.1l6.1 -6.2l6.1 6.2l-6.1 6.2zM1722.7 1336.8l6.1 -6.2l6.1 6.2l-6.1 6.2zM1723 1337.5l6.1 -6.2l6.1 6.2l-6.1 6.2zM1723.2 1338.2l6.1 -6.2l6.1 6.2l-6.1 6.2zM1723.5 1338.9l6.1 -6.2l6.1 6.2l-6.1 6.2zM1723.8 1339.6l6.1 -6.2l6.1 6.2l-6.1 6.2zM1724 1340.3l6.1 -6.2l6.1 6.2l-6.1 6.2zM1724.3 1341l6.1 -6.2l6.1 6.2l-6.1 6.2zM1724.6 1341.7l6.1 -6.2l6.1 6.2l-6.1 6.2zM1724.8 1342.4l6.1 -6.2l6.1 6.2l-6.1 6.2zM1725.1 1343.1l6.1 -6.2l6.1 6.2l-6.1 6.2zM1725.4 1343.8l6.1 -6.2l6.1 6.2l-6.1 6.2zM1725.6 1344.5l6.1 -6.2l6.1 6.2l-6.1 6.2zM1725.9 1345.2l6.1 -6.2l6.1 6.2l-6.1 6.2zM1726.2 1345.9l6.1 -6.2l6.1 6.2l-6.1 6.2zM1726.4 1346.6l6.1 -6.2l6.1 6.2l-6.1 6.2zM1726.7 1347.3l6.1 -6.2l6.1 6.2l-6.1 6.2zM1727 1347.9l6.1 -6.2l6.1 6.2l-6.1 6.2zM1727.2 1348.6l6.1 -6.2l6.1 6.2l-6.1 6.2zM1727.5 1349.3l6.1 -6.2l6.1 6.2l-6.1 6.2zM1727.8 1350l6.1 -6.2l6.1 6.2l-6.1 6.2zM1728 1350.6l6.1 -6.2l6.1 6.2l-6.1 6.2zM1728.3 1351.3l6.1 -6.2l6.1 6.2l-6.1 6.2zM1728.5 1352l6.1 -6.2l6.1 6.2l-6.1 6.2zM1728.8 1352.6l6.1 -6.2l6.1 6.2l-6.1 6.2zM1729.1 1353.3l6.1 -6.2l6.1 6.2l-6.1 6.2zM1729.3 1354l6.1 -6.2l6.1 6.2l-6.1 6.2zM1729.6 1354.6l6.1 -6.2l6.1 6.2l-6.1 6.2zM1729.8 1355.3l6.1 -6.2l6.1 6.2l-6.1 6.2zM1730.1 1355.9l6.1 -6.2l6.1 6.2l-6.1 6.2zM1730.3 1356.6l6.1 -6.2l6.1 6.2l-6.1 6.2zM1730.6 1357.2l6.1 -6.2l6.1 6.2l-6.1 6.2zM1730.9 1357.9l6.1 -6.2l6.1 6.2l-6.1 6.2zM1731.1 1358.5l6.1 -6.2l6.1 6.2l-6.1 6.2zM1731.4 1359.1l6.1 -6.2l6.1 6.2l-6.1 6.2zM1731.6 1359.8l6.1 -6.2l6.1 6.2l-6.1 6.2zM1731.9 1360.4l6.1 -6.2l6.1 6.2l-6.1 6.2zM1732.1 1361l6.1 -6.2l6.1 6.2l-6.1 6.2zM1732.4 1361.7l6.1 -6.2l6.1 6.2l-6.1 6.2zM1732.6 1362.3l6.1 -6.2l6.1 6.2l-6.1 6.2zM1732.9 1362.9l6.1 -6.2l6.1 6.2l-6.1 6.2zM1733.1 1363.6l6.1 -6.2l6.1 6.2l-6.1 6.2zM1733.4 1364.2l6.1 -6.2l6.1 6.2l-6.1 6.2zM1733.7 1364.8l6.1 -6.2l6.1 6.2l-6.1 6.2zM1733.9 1365.4l6.1 -6.2l6.1 6.2l-6.1 6.2zM1734.2 1366l6.1 -6.2l6.1 6.2l-6.1 6.2zM1734.4 1366.7l6.1 -6.2l6.1 6.2l-6.1 6.2zM1734.7 1367.3l6.1 -6.2l6.1 6.2l-6.1 6.2zM1734.9 1367.9l6.1 -6.2l6.1 6.2l-6.1 6.2zM1735.2 1368.5l6.1 -6.2l6.1 6.2l-6.1 6.2zM1735.4 1369.1l6.1 -6.2l6.1 6.2l-6.1 6.2zM1735.7 1369.7l6.1 -6.2l6.1 6.2l-6.1 6.2zM1735.9 1370.3l6.1 -6.2l6.1 6.2l-6.1 6.2zM1736.1 1370.9l6.1 -6.2l6.1 6.2l-6.1 6.2zM1736.4 1371.5l6.1 -6.2l6.1 6.2l-6.1 6.2zM1736.6 1372.1l6.1 -6.2l6.1 6.2l-6.1 6.2zM1736.9 1372.7l6.1 -6.2l6.1 6.2l-6.1 6.2zM1737.1 1373.3l6.1 -6.2l6.1 6.2l-6.1 6.2zM1737.4 1373.8l6.1 -6.2l6.1 6.2l-6.1 6.2zM1737.6 1374.4l6.1 -6.2l6.1 6.2l-6.1 6.2zM1737.9 1375l6.1 -6.2l6.1 6.2l-6.1 6.2zM1738.1 1375.6l6.1 -6.2l6.1 6.2l-6.1 6.2zM1738.4 1376.2l6.1 -6.2l6.1 6.2l-6.1 6.2zM1738.6 1376.8l6.1 -6.2l6.1 6.2l-6.1 6.2zM1738.8 1377.3l6.1 -6.2l6.1 6.2l-6.1 6.2zM1739.1 1377.9l6.1 -6.2l6.1 6.2l-6.1 6.2zM1739.3 1378.5l6.1 -6.2l6.1 6.2l-6.1 6.2zM1739.6 1379l6.1 -6.2l6.1 6.2l-6.1 6.2zM1739.8 1379.6l6.1 -6.2l6.1 6.2l-6.1 6.2zM1740.1 1380.2l6.1 -6.2l6.1 6.2l-6.1 6.2zM1740.3 1380.7l6.1 -6.2l6.1 6.2l-6.1 6.2zM1740.5 1381.3l6.1 -6.2l6.1 6.2l-6.1 6.2zM1740.8 1381.9l6.1 -6.2l6.1 6.2l-6.1 6.2zM1741 1382.4l6.1 -6.2l6.1 6.2l-6.1 6.2zM1741.3 1383l6.1 -6.2l6.1 6.2l-6.1 6.2zM1741.5 1383.5l6.1 -6.2l6.1 6.2l-6.1 6.2zM1741.7 1384.1l6.1 -6.2l6.1 6.2l-6.1 6.2zM1742 1384.6l6.1 -6.2l6.1 6.2l-6.1 6.2zM1742.2 1385.2l6.1 -6.2l6.1 6.2l-6.1 6.2zM1742.4 1385.7l6.1 -6.2l6.1 6.2l-6.1 6.2zM1742.7 1386.3l6.1 -6.2l6.1 6.2l-6.1 6.2zM1742.9 1386.8l6.1 -6.2l6.1 6.2l-6.1 6.2zM1743.1 1387.4l6.1 -6.2l6.1 6.2l-6.1 6.2zM1743.4 1387.9l6.1 -6.2l6.1 6.2l-6.1 6.2zM1743.6 1388.4l6.1 -6.2l6.1 6.2l-6.1 6.2zM1743.9 1389l6.1 -6.2l6.1 6.2l-6.1 6.2zM1744.1 1389.5l6.1 -6.2l6.1 6.2l-6.1 6.2zM1744.3 1390l6.1 -6.2l6.1 6.2l-6.1 6.2zM1744.6 1390.6l6.1 -6.2l6.1 6.2l-6.1 6.2zM1744.8 1391.1l6.1 -6.2l6.1 6.2l-6.1 6.2zM1745 1391.6l6.1 -6.2l6.1 6.2l-6.1 6.2zM1745.3 1392.1l6.1 -6.2l6.1 6.2l-6.1 6.2zM1745.5 1392.7l6.1 -6.2l6.1 6.2l-6.1 6.2zM1745.7 1393.2l6.1 -6.2l6.1 6.2l-6.1 6.2zM1746 1393.7l6.1 -6.2l6.1 6.2l-6.1 6.2zM1746.2 1394.2l6.1 -6.2l6.1 6.2l-6.1 6.2zM1746.4 1394.7l6.1 -6.2l6.1 6.2l-6.1 6.2zM1746.6 1395.2l6.1 -6.2l6.1 6.2l-6.1 6.2zM1746.9 1395.7l6.1 -6.2l6.1 6.2l-6.1 6.2zM1747.1 1396.3l6.1 -6.2l6.1 6.2l-6.1 6.2zM1747.3 1396.8l6.1 -6.2l6.1 6.2l-6.1 6.2zM1747.6 1397.3l6.1 -6.2l6.1 6.2l-6.1 6.2zM1747.8 1397.8l6.1 -6.2l6.1 6.2l-6.1 6.2zM1748 1398.3l6.1 -6.2l6.1 6.2l-6.1 6.2zM1748.2 1398.8l6.1 -6.2l6.1 6.2l-6.1 6.2zM1748.5 1399.3l6.1 -6.2l6.1 6.2l-6.1 6.2zM1748.7 1399.8l6.1 -6.2l6.1 6.2l-6.1 6.2zM1748.9 1400.3l6.1 -6.2l6.1 6.2l-6.1 6.2zM1749.2 1400.8l6.1 -6.2l6.1 6.2l-6.1 6.2zM1749.4 1401.2l6.1 -6.2l6.1 6.2l-6.1 6.2zM1749.6 1401.7l6.1 -6.2l6.1 6.2l-6.1 6.2zM1749.8 1402.2l6.1 -6.2l6.1 6.2l-6.1 6.2zM1750.1 1402.7l6.1 -6.2l6.1 6.2l-6.1 6.2zM1750.3 1403.2l6.1 -6.2l6.1 6.2l-6.1 6.2zM1750.5 1403.7l6.1 -6.2l6.1 6.2l-6.1 6.2zM1750.7 1404.2l6.1 -6.2l6.1 6.2l-6.1 6.2zM1751 1404.6l6.1 -6.2l6.1 6.2l-6.1 6.2zM1751.2 1405.1l6.1 -6.2l6.1 6.2l-6.1 6.2zM1751.4 1405.6l6.1 -6.2l6.1 6.2l-6.1 6.2zM1751.6 1406.1l6.1 -6.2l6.1 6.2l-6.1 6.2zM1751.8 1406.5l6.1 -6.2l6.1 6.2l-6.1 6.2zM1752.1 1407l6.1 -6.2l6.1 6.2l-6.1 6.2zM1752.3 1407.5l6.1 -6.2l6.1 6.2l-6.1 6.2zM1752.5 1407.9l6.1 -6.2l6.1 6.2l-6.1 6.2zM1752.7 1408.4l6.1 -6.2l6.1 6.2l-6.1 6.2zM1752.9 1408.9l6.1 -6.2l6.1 6.2l-6.1 6.2zM1753.2 1409.3l6.1 -6.2l6.1 6.2l-6.1 6.2zM1753.4 1409.8l6.1 -6.2l6.1 6.2l-6.1 6.2zM1753.6 1410.3l6.1 -6.2l6.1 6.2l-6.1 6.2zM1753.8 1410.7l6.1 -6.2l6.1 6.2l-6.1 6.2zM1754 1411.2l6.1 -6.2l6.1 6.2l-6.1 6.2zM1754.3 1411.6l6.1 -6.2l6.1 6.2l-6.1 6.2zM1754.5 1412.1l6.1 -6.2l6.1 6.2l-6.1 6.2zM1754.7 1412.5l6.1 -6.2l6.1 6.2l-6.1 6.2zM1754.9 1413l6.1 -6.2l6.1 6.2l-6.1 6.2zM1755.1 1413.4l6.1 -6.2l6.1 6.2l-6.1 6.2zM1755.4 1413.9l6.1 -6.2l6.1 6.2l-6.1 6.2zM1755.6 1414.3l6.1 -6.2l6.1 6.2l-6.1 6.2zM1755.8 1414.8l6.1 -6.2l6.1 6.2l-6.1 6.2zM1756 1415.2l6.1 -6.2l6.1 6.2l-6.1 6.2zM1756.2 1415.6l6.1 -6.2l6.1 6.2l-6.1 6.2zM1756.4 1416.1l6.1 -6.2l6.1 6.2l-6.1 6.2zM1756.6 1416.5l6.1 -6.2l6.1 6.2l-6.1 6.2zM1756.9 1417l6.1 -6.2l6.1 6.2l-6.1 6.2zM1757.1 1417.4l6.1 -6.2l6.1 6.2l-6.1 6.2zM1757.3 1417.8l6.1 -6.2l6.1 6.2l-6.1 6.2zM1757.5 1418.3l6.1 -6.2l6.1 6.2l-6.1 6.2zM1757.7 1418.7l6.1 -6.2l6.1 6.2l-6.1 6.2zM1757.9 1419.1l6.1 -6.2l6.1 6.2l-6.1 6.2zM1758.1 1419.5l6.1 -6.2l6.1 6.2l-6.1 6.2zM1758.4 1420l6.1 -6.2l6.1 6.2l-6.1 6.2zM1758.6 1420.4l6.1 -6.2l6.1 6.2l-6.1 6.2zM1758.8 1420.8l6.1 -6.2l6.1 6.2l-6.1 6.2zM1759 1421.2l6.1 -6.2l6.1 6.2l-6.1 6.2zM1759.2 1421.6l6.1 -6.2l6.1 6.2l-6.1 6.2zM1759.4 1422.1l6.1 -6.2l6.1 6.2l-6.1 6.2zM1759.6 1422.5l6.1 -6.2l6.1 6.2l-6.1 6.2zM1759.8 1422.9l6.1 -6.2l6.1 6.2l-6.1 6.2zM1760 1423.3l6.1 -6.2l6.1 6.2l-6.1 6.2zM1760.3 1423.7l6.1 -6.2l6.1 6.2l-6.1 6.2zM1760.5 1424.1l6.1 -6.2l6.1 6.2l-6.1 6.2zM1760.7 1424.5l6.1 -6.2l6.1 6.2l-6.1 6.2zM1760.9 1424.9l6.1 -6.2l6.1 6.2l-6.1 6.2zM1761.1 1425.4l6.1 -6.2l6.1 6.2l-6.1 6.2zM1761.3 1425.8l6.1 -6.2l6.1 6.2l-6.1 6.2zM1761.5 1426.2l6.1 -6.2l6.1 6.2l-6.1 6.2zM1761.7 1426.6l6.1 -6.2l6.1 6.2l-6.1 6.2zM1761.9 1427l6.1 -6.2l6.1 6.2l-6.1 6.2zM1762.1 1427.4l6.1 -6.2l6.1 6.2l-6.1 6.2zM1762.3 1427.8l6.1 -6.2l6.1 6.2l-6.1 6.2zM1762.5 1428.2l6.1 -6.2l6.1 6.2l-6.1 6.2zM1762.8 1428.5l6.1 -6.2l6.1 6.2l-6.1 6.2zM1763 1428.9l6.1 -6.2l6.1 6.2l-6.1 6.2zM1763.2 1429.3l6.1 -6.2l6.1 6.2l-6.1 6.2zM1763.4 1429.7l6.1 -6.2l6.1 6.2l-6.1 6.2zM1763.6 1430.1l6.1 -6.2l6.1 6.2l-6.1 6.2zM1763.8 1430.5l6.1 -6.2l6.1 6.2l-6.1 6.2zM1764 1430.9l6.1 -6.2l6.1 6.2l-6.1 6.2zM1764.2 1431.3l6.1 -6.2l6.1 6.2l-6.1 6.2zM1764.4 1431.7l6.1 -6.2l6.1 6.2l-6.1 6.2zM1764.6 1432l6.1 -6.2l6.1 6.2l-6.1 6.2zM1764.8 1432.4l6.1 -6.2l6.1 6.2l-6.1 6.2zM1765 1432.8l6.1 -6.2l6.1 6.2l-6.1 6.2zM1765.2 1433.2l6.1 -6.2l6.1 6.2l-6.1 6.2zM1765.4 1433.6l6.1 -6.2l6.1 6.2l-6.1 6.2zM1765.6 1433.9l6.1 -6.2l6.1 6.2l-6.1 6.2zM1765.8 1434.3l6.1 -6.2l6.1 6.2l-6.1 6.2zM1766 1434.7l6.1 -6.2l6.1 6.2l-6.1 6.2zM1766.2 1435l6.1 -6.2l6.1 6.2l-6.1 6.2zM1766.4 1435.4l6.1 -6.2l6.1 6.2l-6.1 6.2zM1766.6 1435.8l6.1 -6.2l6.1 6.2l-6.1 6.2zM1766.8 1436.2l6.1 -6.2l6.1 6.2l-6.1 6.2zM1767 1436.5l6.1 -6.2l6.1 6.2l-6.1 6.2zM1767.2 1436.9l6.1 -6.2l6.1 6.2l-6.1 6.2zM1767.4 1437.2l6.1 -6.2l6.1 6.2l-6.1 6.2zM1767.6 1437.6l6.1 -6.2l6.1 6.2l-6.1 6.2zM1767.8 1438l6.1 -6.2l6.1 6.2l-6.1 6.2zM1768 1438.3l6.1 -6.2l6.1 6.2l-6.1 6.2zM1768.2 1438.7l6.1 -6.2l6.1 6.2l-6.1 6.2zM1768.4 1439l6.1 -6.2l6.1 6.2l-6.1 6.2zM1768.6 1439.4l6.1 -6.2l6.1 6.2l-6.1 6.2zM1768.8 1439.8l6.1 -6.2l6.1 6.2l-6.1 6.2zM1769 1440.1l6.1 -6.2l6.1 6.2l-6.1 6.2zM1769.2 1440.5l6.1 -6.2l6.1 6.2l-6.1 6.2zM1769.4 1440.8l6.1 -6.2l6.1 6.2l-6.1 6.2zM1769.6 1441.2l6.1 -6.2l6.1 6.2l-6.1 6.2zM1769.8 1441.5l6.1 -6.2l6.1 6.2l-6.1 6.2zM1770 1441.9l6.1 -6.2l6.1 6.2l-6.1 6.2zM1770.2 1442.2l6.1 -6.2l6.1 6.2l-6.1 6.2zM1770.4 1442.6l6.1 -6.2l6.1 6.2l-6.1 6.2zM1770.6 1442.9l6.1 -6.2l6.1 6.2l-6.1 6.2zM1770.8 1443.2l6.1 -6.2l6.1 6.2l-6.1 6.2zM1771 1443.6l6.1 -6.2l6.1 6.2l-6.1 6.2zM1771.2 1443.9l6.1 -6.2l6.1 6.2l-6.1 6.2zM1771.4 1444.3l6.1 -6.2l6.1 6.2l-6.1 6.2zM1771.6 1444.6l6.1 -6.2l6.1 6.2l-6.1 6.2zM1771.7 1444.9l6.1 -6.2l6.1 6.2l-6.1 6.2zM1771.9 1445.3l6.1 -6.2l6.1 6.2l-6.1 6.2zM1772.1 1445.6l6.1 -6.2l6.1 6.2l-6.1 6.2zM1772.3 1445.9l6.1 -6.2l6.1 6.2l-6.1 6.2zM1772.5 1446.3l6.1 -6.2l6.1 6.2l-6.1 6.2zM1772.7 1446.6l6.1 -6.2l6.1 6.2l-6.1 6.2zM1772.9 1446.9l6.1 -6.2l6.1 6.2l-6.1 6.2zM1773.1 1447.3l6.1 -6.2l6.1 6.2l-6.1 6.2zM1773.3 1447.6l6.1 -6.2l6.1 6.2l-6.1 6.2zM1773.5 1447.9l6.1 -6.2l6.1 6.2l-6.1 6.2zM1773.7 1448.2l6.1 -6.2l6.1 6.2l-6.1 6.2zM1773.9 1448.6l6.1 -6.2l6.1 6.2l-6.1 6.2zM1774.1 1448.9l6.1 -6.2l6.1 6.2l-6.1 6.2zM1774.2 1449.2l6.1 -6.2l6.1 6.2l-6.1 6.2zM1774.4 1449.5l6.1 -6.2l6.1 6.2l-6.1 6.2zM1774.6 1449.8l6.1 -6.2l6.1 6.2l-6.1 6.2zM1774.8 1450.2l6.1 -6.2l6.1 6.2l-6.1 6.2zM1775 1450.5l6.1 -6.2l6.1 6.2l-6.1 6.2zM1775.2 1450.8l6.1 -6.2l6.1 6.2l-6.1 6.2zM1775.4 1451.1l6.1 -6.2l6.1 6.2l-6.1 6.2zM1775.6 1451.4l6.1 -6.2l6.1 6.2l-6.1 6.2zM1775.8 1451.7l6.1 -6.2l6.1 6.2l-6.1 6.2zM1776 1452l6.1 -6.2l6.1 6.2l-6.1 6.2zM1776.1 1452.4l6.1 -6.2l6.1 6.2l-6.1 6.2zM1776.3 1452.7l6.1 -6.2l6.1 6.2l-6.1 6.2zM1776.5 1453l6.1 -6.2l6.1 6.2l-6.1 6.2zM1776.7 1453.3l6.1 -6.2l6.1 6.2l-6.1 6.2zM1776.9 1453.6l6.1 -6.2l6.1 6.2l-6.1 6.2zM1777.1 1453.9l6.1 -6.2l6.1 6.2l-6.1 6.2zM1777.3 1454.2l6.1 -6.2l6.1 6.2l-6.1 6.2zM1777.4 1454.5l6.1 -6.2l6.1 6.2l-6.1 6.2zM1777.6 1454.8l6.1 -6.2l6.1 6.2l-6.1 6.2zM1777.8 1455.1l6.1 -6.2l6.1 6.2l-6.1 6.2zM1778 1455.4l6.1 -6.2l6.1 6.2l-6.1 6.2zM1778.2 1455.7l6.1 -6.2l6.1 6.2l-6.1 6.2zM1778.4 1456l6.1 -6.2l6.1 6.2l-6.1 6.2zM1778.6 1456.3l6.1 -6.2l6.1 6.2l-6.1 6.2zM1778.7 1456.6l6.1 -6.2l6.1 6.2l-6.1 6.2zM1778.9 1456.9l6.1 -6.2l6.1 6.2l-6.1 6.2zM1779.1 1457.2l6.1 -6.2l6.1 6.2l-6.1 6.2zM1779.3 1457.5l6.1 -6.2l6.1 6.2l-6.1 6.2zM1779.5 1457.8l6.1 -6.2l6.1 6.2l-6.1 6.2zM1779.7 1458l6.1 -6.2l6.1 6.2l-6.1 6.2zM1779.9 1458.3l6.1 -6.2l6.1 6.2l-6.1 6.2zM1780 1458.6l6.1 -6.2l6.1 6.2l-6.1 6.2zM1780.2 1458.9l6.1 -6.2l6.1 6.2l-6.1 6.2zM1780.4 1459.2l6.1 -6.2l6.1 6.2l-6.1 6.2zM1780.6 1459.5l6.1 -6.2l6.1 6.2l-6.1 6.2zM1780.8 1459.8l6.1 -6.2l6.1 6.2l-6.1 6.2zM1780.9 1460.1l6.1 -6.2l6.1 6.2l-6.1 6.2zM1781.1 1460.3l6.1 -6.2l6.1 6.2l-6.1 6.2zM1781.3 1460.6l6.1 -6.2l6.1 6.2l-6.1 6.2zM1781.5 1460.9l6.1 -6.2l6.1 6.2l-6.1 6.2zM1781.7 1461.2l6.1 -6.2l6.1 6.2l-6.1 6.2zM1781.9 1461.5l6.1 -6.2l6.1 6.2l-6.1 6.2zM1782 1461.7l6.1 -6.2l6.1 6.2l-6.1 6.2zM1782.2 1462l6.1 -6.2l6.1 6.2l-6.1 6.2zM1782.4 1462.3l6.1 -6.2l6.1 6.2l-6.1 6.2zM1782.6 1462.6l6.1 -6.2l6.1 6.2l-6.1 6.2zM1782.8 1462.8l6.1 -6.2l6.1 6.2l-6.1 6.2zM1782.9 1463.1l6.1 -6.2l6.1 6.2l-6.1 6.2zM1783.1 1463.4l6.1 -6.2l6.1 6.2l-6.1 6.2zM1783.3 1463.6l6.1 -6.2l6.1 6.2l-6.1 6.2zM1783.5 1463.9l6.1 -6.2l6.1 6.2l-6.1 6.2zM1783.7 1464.2l6.1 -6.2l6.1 6.2l-6.1 6.2zM1783.8 1464.4l6.1 -6.2l6.1 6.2l-6.1 6.2zM1784 1464.7l6.1 -6.2l6.1 6.2l-6.1 6.2zM1784.2 1465l6.1 -6.2l6.1 6.2l-6.1 6.2zM1784.4 1465.2l6.1 -6.2l6.1 6.2l-6.1 6.2zM1784.5 1465.5l6.1 -6.2l6.1 6.2l-6.1 6.2zM1784.7 1465.8l6.1 -6.2l6.1 6.2l-6.1 6.2zM1784.9 1466l6.1 -6.2l6.1 6.2l-6.1 6.2zM1785.1 1466.3l6.1 -6.2l6.1 6.2l-6.1 6.2zM1785.3 1466.6l6.1 -6.2l6.1 6.2l-6.1 6.2zM1785.4 1466.8l6.1 -6.2l6.1 6.2l-6.1 6.2zM1785.6 1467.1l6.1 -6.2l6.1 6.2l-6.1 6.2zM1785.8 1467.3l6.1 -6.2l6.1 6.2l-6.1 6.2zM1786 1467.6l6.1 -6.2l6.1 6.2l-6.1 6.2zM1786.1 1467.8l6.1 -6.2l6.1 6.2l-6.1 6.2zM1786.3 1468.1l6.1 -6.2l6.1 6.2l-6.1 6.2zM1786.5 1468.3l6.1 -6.2l6.1 6.2l-6.1 6.2zM1786.7 1468.6l6.1 -6.2l6.1 6.2l-6.1 6.2zM1786.8 1468.9l6.1 -6.2l6.1 6.2l-6.1 6.2zM1787 1469.1l6.1 -6.2l6.1 6.2l-6.1 6.2zM1787.2 1469.4l6.1 -6.2l6.1 6.2l-6.1 6.2zM1787.4 1469.6l6.1 -6.2l6.1 6.2l-6.1 6.2zM1787.5 1469.9l6.1 -6.2l6.1 6.2l-6.1 6.2zM1787.7 1470.1l6.1 -6.2l6.1 6.2l-6.1 6.2zM1787.9 1470.3l6.1 -6.2l6.1 6.2l-6.1 6.2zM1788.1 1470.6l6.1 -6.2l6.1 6.2l-6.1 6.2zM1788.2 1470.8l6.1 -6.2l6.1 6.2l-6.1 6.2zM1788.4 1471.1l6.1 -6.2l6.1 6.2l-6.1 6.2zM1788.6 1471.3l6.1 -6.2l6.1 6.2l-6.1 6.2zM1788.7 1471.6l6.1 -6.2l6.1 6.2l-6.1 6.2zM1788.9 1471.8l6.1 -6.2l6.1 6.2l-6.1 6.2zM1789.1 1472l6.1 -6.2l6.1 6.2l-6.1 6.2zM1789.3 1472.3l6.1 -6.2l6.1 6.2l-6.1 6.2zM1789.4 1472.5l6.1 -6.2l6.1 6.2l-6.1 6.2zM1789.6 1472.8l6.1 -6.2l6.1 6.2l-6.1 6.2zM1789.8 1473l6.1 -6.2l6.1 6.2l-6.1 6.2zM1789.9 1473.2l6.1 -6.2l6.1 6.2l-6.1 6.2zM1790.1 1473.5l6.1 -6.2l6.1 6.2l-6.1 6.2zM1790.3 1473.7l6.1 -6.2l6.1 6.2l-6.1 6.2zM1790.5 1473.9l6.1 -6.2l6.1 6.2l-6.1 6.2zM1790.6 1474.2l6.1 -6.2l6.1 6.2l-6.1 6.2zM1790.8 1474.4l6.1 -6.2l6.1 6.2l-6.1 6.2zM1791 1474.6l6.1 -6.2l6.1 6.2l-6.1 6.2zM1791.1 1474.9l6.1 -6.2l6.1 6.2l-6.1 6.2zM1791.3 1475.1l6.1 -6.2l6.1 6.2l-6.1 6.2zM1791.5 1475.3l6.1 -6.2l6.1 6.2l-6.1 6.2zM1791.6 1475.6l6.1 -6.2l6.1 6.2l-6.1 6.2zM1791.8 1475.8l6.1 -6.2l6.1 6.2l-6.1 6.2zM1792 1476l6.1 -6.2l6.1 6.2l-6.1 6.2zM1792.2 1476.2l6.1 -6.2l6.1 6.2l-6.1 6.2zM1792.3 1476.5l6.1 -6.2l6.1 6.2l-6.1 6.2zM1792.5 1476.7l6.1 -6.2l6.1 6.2l-6.1 6.2zM1792.7 1476.9l6.1 -6.2l6.1 6.2l-6.1 6.2zM1792.8 1477.1l6.1 -6.2l6.1 6.2l-6.1 6.2zM1793 1477.4l6.1 -6.2l6.1 6.2l-6.1 6.2zM1793.2 1477.6l6.1 -6.2l6.1 6.2l-6.1 6.2zM1793.3 1477.8l6.1 -6.2l6.1 6.2l-6.1 6.2zM1793.5 1478l6.1 -6.2l6.1 6.2l-6.1 6.2zM1793.7 1478.2l6.1 -6.2l6.1 6.2l-6.1 6.2zM1793.8 1478.5l6.1 -6.2l6.1 6.2l-6.1 6.2zM1794 1478.7l6.1 -6.2l6.1 6.2l-6.1 6.2zM1794.2 1478.9l6.1 -6.2l6.1 6.2l-6.1 6.2zM1794.3 1479.1l6.1 -6.2l6.1 6.2l-6.1 6.2zM1794.5 1479.3l6.1 -6.2l6.1 6.2l-6.1 6.2zM1794.7 1479.5l6.1 -6.2l6.1 6.2l-6.1 6.2zM1794.8 1479.7l6.1 -6.2l6.1 6.2l-6.1 6.2zM1795 1480l6.1 -6.2l6.1 6.2l-6.1 6.2zM1795.2 1480.2l6.1 -6.2l6.1 6.2l-6.1 6.2zM1795.3 1480.4l6.1 -6.2l6.1 6.2l-6.1 6.2zM1795.5 1480.6l6.1 -6.2l6.1 6.2l-6.1 6.2zM1795.7 1480.8l6.1 -6.2l6.1 6.2l-6.1 6.2zM1795.8 1481l6.1 -6.2l6.1 6.2l-6.1 6.2zM1796 1481.2l6.1 -6.2l6.1 6.2l-6.1 6.2zM1796.1 1481.4l6.1 -6.2l6.1 6.2l-6.1 6.2zM1796.3 1481.6l6.1 -6.2l6.1 6.2l-6.1 6.2zM1796.5 1481.8l6.1 -6.2l6.1 6.2l-6.1 6.2zM1796.6 1482l6.1 -6.2l6.1 6.2l-6.1 6.2zM1796.8 1482.2l6.1 -6.2l6.1 6.2l-6.1 6.2zM1797 1482.5l6.1 -6.2l6.1 6.2l-6.1 6.2zM1797.1 1482.7l6.1 -6.2l6.1 6.2l-6.1 6.2zM1797.3 1482.9l6.1 -6.2l6.1 6.2l-6.1 6.2zM1797.5 1483.1l6.1 -6.2l6.1 6.2l-6.1 6.2zM1797.6 1483.3l6.1 -6.2l6.1 6.2l-6.1 6.2zM1797.8 1483.5l6.1 -6.2l6.1 6.2l-6.1 6.2zM1797.9 1483.7l6.1 -6.2l6.1 6.2l-6.1 6.2zM1798.1 1483.9l6.1 -6.2l6.1 6.2l-6.1 6.2zM1798.3 1484.1l6.1 -6.2l6.1 6.2l-6.1 6.2zM1798.4 1484.3l6.1 -6.2l6.1 6.2l-6.1 6.2zM1798.6 1484.4l6.1 -6.2l6.1 6.2l-6.1 6.2zM1798.7 1484.6l6.1 -6.2l6.1 6.2l-6.1 6.2zM1798.9 1484.8l6.1 -6.2l6.1 6.2l-6.1 6.2zM1799.1 1485l6.1 -6.2l6.1 6.2l-6.1 6.2zM1799.2 1485.2l6.1 -6.2l6.1 6.2l-6.1 6.2zM1799.4 1485.4l6.1 -6.2l6.1 6.2l-6.1 6.2zM1799.6 1485.6l6.1 -6.2l6.1 6.2l-6.1 6.2zM1799.7 1485.8l6.1 -6.2l6.1 6.2l-6.1 6.2zM1799.9 1486l6.1 -6.2l6.1 6.2l-6.1 6.2zM1800 1486.2l6.1 -6.2l6.1 6.2l-6.1 6.2zM1800.2 1486.4l6.1 -6.2l6.1 6.2l-6.1 6.2zM1800.4 1486.6l6.1 -6.2l6.1 6.2l-6.1 6.2zM1800.5 1486.8l6.1 -6.2l6.1 6.2l-6.1 6.2zM1800.7 1486.9l6.1 -6.2l6.1 6.2l-6.1 6.2zM1800.8 1487.1l6.1 -6.2l6.1 6.2l-6.1 6.2zM1801 1487.3l6.1 -6.2l6.1 6.2l-6.1 6.2zM1801.1 1487.5l6.1 -6.2l6.1 6.2l-6.1 6.2zM1801.3 1487.7l6.1 -6.2l6.1 6.2l-6.1 6.2zM1801.5 1487.9l6.1 -6.2l6.1 6.2l-6.1 6.2zM1801.6 1488.1l6.1 -6.2l6.1 6.2l-6.1 6.2zM1801.8 1488.2l6.1 -6.2l6.1 6.2l-6.1 6.2zM1801.9 1488.4l6.1 -6.2l6.1 6.2l-6.1 6.2zM1802.1 1488.6l6.1 -6.2l6.1 6.2l-6.1 6.2zM1802.3 1488.8l6.1 -6.2l6.1 6.2l-6.1 6.2zM1802.4 1489l6.1 -6.2l6.1 6.2l-6.1 6.2zM1802.6 1489.1l6.1 -6.2l6.1 6.2l-6.1 6.2zM1802.7 1489.3l6.1 -6.2l6.1 6.2l-6.1 6.2zM1802.9 1489.5l6.1 -6.2l6.1 6.2l-6.1 6.2zM1803 1489.7l6.1 -6.2l6.1 6.2l-6.1 6.2zM1803.2 1489.9l6.1 -6.2l6.1 6.2l-6.1 6.2zM1803.3 1490l6.1 -6.2l6.1 6.2l-6.1 6.2zM1803.5 1490.2l6.1 -6.2l6.1 6.2l-6.1 6.2zM1803.7 1490.4l6.1 -6.2l6.1 6.2l-6.1 6.2zM1803.8 1490.6l6.1 -6.2l6.1 6.2l-6.1 6.2zM1804 1490.7l6.1 -6.2l6.1 6.2l-6.1 6.2zM1804.1 1490.9l6.1 -6.2l6.1 6.2l-6.1 6.2zM1804.3 1491.1l6.1 -6.2l6.1 6.2l-6.1 6.2zM1804.4 1491.3l6.1 -6.2l6.1 6.2l-6.1 6.2zM1804.6 1491.4l6.1 -6.2l6.1 6.2l-6.1 6.2zM1804.7 1491.6l6.1 -6.2l6.1 6.2l-6.1 6.2zM1804.9 1491.8l6.1 -6.2l6.1 6.2l-6.1 6.2zM1805.1 1491.9l6.1 -6.2l6.1 6.2l-6.1 6.2zM1805.2 1492.1l6.1 -6.2l6.1 6.2l-6.1 6.2zM1805.4 1492.3l6.1 -6.2l6.1 6.2l-6.1 6.2zM1805.5 1492.5l6.1 -6.2l6.1 6.2l-6.1 6.2zM1805.7 1492.6l6.1 -6.2l6.1 6.2l-6.1 6.2zM1805.8 1492.8l6.1 -6.2l6.1 6.2l-6.1 6.2zM1806 1493l6.1 -6.2l6.1 6.2l-6.1 6.2zM1806.1 1493.1l6.1 -6.2l6.1 6.2l-6.1 6.2zM1806.3 1493.3l6.1 -6.2l6.1 6.2l-6.1 6.2zM1806.4 1493.5l6.1 -6.2l6.1 6.2l-6.1 6.2zM1806.6 1493.6l6.1 -6.2l6.1 6.2l-6.1 6.2zM1806.7 1493.8l6.1 -6.2l6.1 6.2l-6.1 6.2zM1806.9 1493.9l6.1 -6.2l6.1 6.2l-6.1 6.2zM1807 1494.1l6.1 -6.2l6.1 6.2l-6.1 6.2zM1807.2 1494.3l6.1 -6.2l6.1 6.2l-6.1 6.2zM1807.4 1494.4l6.1 -6.2l6.1 6.2l-6.1 6.2zM1807.5 1494.6l6.1 -6.2l6.1 6.2l-6.1 6.2zM1807.7 1494.7l6.1 -6.2l6.1 6.2l-6.1 6.2zM1807.8 1494.9l6.1 -6.2l6.1 6.2l-6.1 6.2zM1808 1495.1l6.1 -6.2l6.1 6.2l-6.1 6.2zM1808.1 1495.2l6.1 -6.2l6.1 6.2l-6.1 6.2zM1808.3 1495.4l6.1 -6.2l6.1 6.2l-6.1 6.2zM1808.4 1495.5l6.1 -6.2l6.1 6.2l-6.1 6.2zM1808.6 1495.7l6.1 -6.2l6.1 6.2l-6.1 6.2zM1808.7 1495.9l6.1 -6.2l6.1 6.2l-6.1 6.2zM1808.9 1496l6.1 -6.2l6.1 6.2l-6.1 6.2zM1809 1496.2l6.1 -6.2l6.1 6.2l-6.1 6.2zM1809.2 1496.3l6.1 -6.2l6.1 6.2l-6.1 6.2zM1809.3 1496.5l6.1 -6.2l6.1 6.2l-6.1 6.2zM1809.5 1496.6l6.1 -6.2l6.1 6.2l-6.1 6.2zM1809.6 1496.8l6.1 -6.2l6.1 6.2l-6.1 6.2zM1809.8 1496.9l6.1 -6.2l6.1 6.2l-6.1 6.2zM1809.9 1497.1l6.1 -6.2l6.1 6.2l-6.1 6.2zM1810.1 1497.2l6.1 -6.2l6.1 6.2l-6.1 6.2zM1810.2 1497.4l6.1 -6.2l6.1 6.2l-6.1 6.2zM1810.4 1497.5l6.1 -6.2l6.1 6.2l-6.1 6.2zM1810.5 1497.7l6.1 -6.2l6.1 6.2l-6.1 6.2zM1810.7 1497.8l6.1 -6.2l6.1 6.2l-6.1 6.2zM1810.8 1498l6.1 -6.2l6.1 6.2l-6.1 6.2zM1811 1498.1l6.1 -6.2l6.1 6.2l-6.1 6.2zM1811.1 1498.3l6.1 -6.2l6.1 6.2l-6.1 6.2zM1811.2 1498.4l6.1 -6.2l6.1 6.2l-6.1 6.2zM1811.4 1498.6l6.1 -6.2l6.1 6.2l-6.1 6.2zM1811.5 1498.7l6.1 -6.2l6.1 6.2l-6.1 6.2zM1811.7 1498.9l6.1 -6.2l6.1 6.2l-6.1 6.2zM1811.8 1499l6.1 -6.2l6.1 6.2l-6.1 6.2zM1812 1499.2l6.1 -6.2l6.1 6.2l-6.1 6.2zM1812.1 1499.3l6.1 -6.2l6.1 6.2l-6.1 6.2zM1812.3 1499.4l6.1 -6.2l6.1 6.2l-6.1 6.2zM1812.4 1499.6l6.1 -6.2l6.1 6.2l-6.1 6.2zM1812.6 1499.7l6.1 -6.2l6.1 6.2l-6.1 6.2zM1812.7 1499.9l6.1 -6.2l6.1 6.2l-6.1 6.2zM1812.9 1500l6.1 -6.2l6.1 6.2l-6.1 6.2zM1813 1500.2l6.1 -6.2l6.1 6.2l-6.1 6.2z"/>
<path fill="#c0504d" stroke="#b8423f" stroke-width="0.7" d="M131.1 170.6h11.6v11.6h-11.6zM131.1 176.6h11.6v11.6h-11.6zM131.1 182.5h11.6v11.6h-11.6zM131.1 188.4h11.6v11.6h-11.6zM131.1 194.3h11.6v11.6h-11.6zM131.1 200.2h11.6v11.6h-11.6zM131.1 206.1h11.6v11.6h-11.6zM131.1 212h11.6v11.6h-11.6zM231 217.9h11.6v11.6h-11.6zM231 223.8h11.6v11.6h-11.6zM231 229.7h11.6v11.6h-11.6zM231 235.6h11.6v11.6h-11.6zM231 241.5h11.6v11.6h-11.6zM231 247.4h11.6v11.6h-11.6zM291.5 253.3h11.6v11.6h-11.6zM291.5 259.2h11.6v11.6h-11.6zM291.5 265.2h11.6v11.6h-11.6zM291.5 271.1h11.6v11.6h-11.6zM291.5 277h11.6v11.6h-11.6zM291.5 282.9h11.6v11.6h-11.6zM291.5 288.8h11.6v11.6h-11.6zM291.5 294.7h11.6v11.6h-11.6zM333 300.6h11.6v11.6h-11.6zM333 306.5h11.6v11.6h-11.6zM333 312.4h11.6v11.6h-11.6zM333 318.3h11.6v11.6h-11.6zM391.9 324.2h11.6v11.6h-11.6zM391.9 330.1h11.6v11.6h-11.6zM391.9 336h11.6v11.6h-11.6zM391.9 341.9h11.6v11.6h-11.6zM391.9 347.8h11.6v11.6h-11.6zM391.9 353.7h11.6v11.6h-11.6zM414.4 359.7h11.6v11.6h-11.6zM414.4 365.6h11.6v11.6h-11.6zM414.4 371.5h11.6v11.6h-11.6zM414.4 377.4h11.6v11.6h-11.6zM493.7 383.3h11.6v11.6h-11.6zM493.7 389.2h11.6v11.6h-11.6zM493.7 395.1h11.6v11.6h-11.6zM493.7 401h11.6v11.6h-11.6zM493.7 406.9h11.6v11.6h-11.6zM493.7 412.8h11.6v11.6h-11.6zM493.7 418.7h11.6v11.6h-11.6zM493.7 424.6h11.6v11.6h-11.6zM493.7 430.5h11.6v11.6h-11.6zM493.7 436.4h11.6v11.6h-11.6zM493.7 442.3h11.6v11.6h-11.6zM505.9 448.3h11.6v11.6h-11.6zM505.9 454.2h11.6v11.6h-11.6zM505.9 460.1h11.6v11.6h-11.6zM505.9 466h11.6v11.6h-11.6zM505.9 471.9h11.6v11.6h-11.6zM505.9 477.8h11.6v11.6h-11.6zM516.5 483.7h11.6v11.6h-11.6zM516.5 489.6h11.6v11.6h-11.6zM526.9 495.5h11.6v11.6h-11.6zM526.9 501.4h11.6v11.6h-11.6zM526.9 507.3h11.6v11.6h-11.6zM526.9 513.2h11.6v11.6h-11.6zM553.6 519.1h11.6v11.6h-11.6zM553.6 525h11.6v11.6h-11.6zM553.6 530.9h11.6v11.6h-11.6zM553.6 536.9h11.6v11.6h-11.6zM553.6 542.8h11.6v11.6h-11.6zM553.6 548.7h11.6v11.6h-11.6zM553.6 554.6h11.6v11.6h-11.6zM553.6 560.5h11.6v11.6h-11.6zM553.6 566.4h11.6v11.6h-11.6zM553.6 572.3h11.6v11.6h-11.6zM560.6 578.2h11.6v11.6h-11.6zM560.6 584.1h11.6v11.6h-11.6zM574.9 590h11.6v11.6h-11.6zM574.9 595.9h11.6v11.6h-11.6zM574.9 601.8h11.6v11.6h-11.6zM574.9 607.7h11.6v11.6h-11.6zM589 613.6h11.6v11.6h-11.6zM589 619.5h11.6v11.6h-11.6zM595.8 625.4h11.6v11.6h-11.6zM595.8 631.4h11.6v11.6h-11.6zM595.8 637.3h11.6v11.6h-11.6zM595.8 643.2h11.6v11.6h-11.6zM600.9 649.1h11.6v11.6h-11.6zM600.9 655h11.6v11.6h-11.6zM613 660.9h11.6v11.6h-11.6zM613 666.8h11.6v11.6h-11.6zM618.2 672.7h11.6v11.6h-11.6zM618.2 678.6h11.6v11.6h-11.6zM618.2 684.5h11.6v11.6h-11.6zM618.2 690.4h11.6v11.6h-11.6zM623.5 696.3h11.6v11.6h-11.6zM633.3 702.2h11.6v11.6h-11.6zM633.3 708.1h11.6v11.6h-11.6zM633.3 714h11.6v11.6h-11.6zM637.8 720h11.6v11.6h-11.6zM637.8 725.9h11.6v11.6h-11.6zM640.9 731.8h11.6v11.6h-11.6zM640.9 737.7h11.6v11.6h-11.6zM640.9 743.6h11.6v11.6h-11.6zM640.9 749.5h11.6v11.6h-11.6zM649.9 755.4h11.6v11.6h-11.6zM649.9 761.3h11.6v11.6h-11.6zM649.9 767.2h11.6v11.6h-11.6zM649.9 773.1h11.6v11.6h-11.6zM649.9 779h11.6v11.6h-11.6zM649.9 784.9h11.6v11.6h-11.6zM655.2 790.8h11.6v11.6h-11.6zM670.4 796.7h11.6v11.6h-11.6zM677.2 802.6h11.6v11.6h-11.6zM677.2 808.6h11.6v11.6h-11.6zM684.1 814.5h11.6v11.6h-11.6zM687.4 820.4h11.6v11.6h-11.6zM697.2 826.3h11.6v11.6h-11.6zM697.2 832.2h11.6v11.6h-11.6zM712 838.1h11.6v11.6h-11.6zM714.2 844h11.6v11.6h-11.6zM714.2 849.9h11.6v11.6h-11.6zM714.2 855.8h11.6v11.6h-11.6zM716.2 861.7h11.6v11.6h-11.6zM721.5 867.6h11.6v11.6h-11.6zM729.2 873.5h11.6v11.6h-11.6zM729.2 879.4h11.6v11.6h-11.6zM751.6 885.3h11.6v11.6h-11.6zM751.6 891.2h11.6v11.6h-11.6zM759.1 897.1h11.6v11.6h-11.6zM764 903.1h11.6v11.6h-11.6zM774.1 909h11.6v11.6h-11.6zM797.4 914.9h11.6v11.6h-11.6zM827 920.8h11.6v11.6h-11.6zM834.2 926.7h11.6v11.6h-11.6zM834.2 932.6h11.6v11.6h-11.6zM841.6 938.5h11.6v11.6h-11.6zM841.6 944.4h11.6v11.6h-11.6zM846.2 950.3h11.6v11.6h-11.6zM846.2 956.2h11.6v11.6h-11.6zM848.7 962.1h11.6v11.6h-11.6zM867.6 968h11.6v11.6h-11.6zM875.7 973.9h11.6v11.6h-11.6zM875.7 979.8h11.6v11.6h-11.6zM891.9 985.7h11.6v11.6h-11.6zM903.9 991.7h11.6v11.6h-11.6zM903.9 997.6h11.6v11.6h-11.6zM997.4 1003.5h11.6v11.6h-11.6zM1027 1009.4h11.6v11.6h-11.6zM1099.7 1015.3h11.6v11.6h-11.6zM1099.7 1021.2h11.6v11.6h-11.6zM1131.7 1027.1h11.6v11.6h-11.6zM1131.7 1033h11.6v11.6h-11.6zM1170.5 1038.9h11.6v11.6h-11.6zM1170.5 1044.8h11.6v11.6h-11.6zM1192.2 1050.7h11.6v11.6h-11.6zM1217.5 1056.6h11.6v11.6h-11.6zM1217.5 1062.5h11.6v11.6h-11.6zM1247 1068.4h11.6v11.6h-11.6zM1247 1074.3h11.6v11.6h-11.6zM1278.6 1080.2h11.6v11.6h-11.6zM1319.2 1086.2h11.6v11.6h-11.6zM1371.2 1092.1h11.6v11.6h-11.6zM1371.2 1098h11.6v11.6h-11.6zM1401.4 1103.9h11.6v11.6h-11.6zM1401.4 1109.8h11.6v11.6h-11.6zM1417.2 1115.7h11.6v11.6h-11.6zM1417.2 1121.6h11.6v11.6h-11.6zM1417.2 1127.5h11.6v11.6h-11.6zM1420.2 1133.4h11.6v11.6h-11.6zM1420.2 1139.3h11.6v11.6h-11.6zM1420.2 1145.2h11.6v11.6h-11.6zM1441.2 1151.1h11.6v11.6h-11.6zM1441.2 1157h11.6v11.6h-11.6zM1448.2 1162.9h11.6v11.6h-11.6zM1448.2 1168.8h11.6v11.6h-11.6zM1491.2 1174.8h11.6v11.6h-11.6zM1491.2 1180.7h11.6v11.6h-11.6zM1502.7 1186.6h11.6v11.6h-11.6zM1502.7 1192.5h11.6v11.6h-11.6zM1553.2 1198.4h11.6v11.6h-11.6zM1553.2 1204.3h11.6v11.6h-11.6zM1557 1210.2h11.6v11.6h-11.6zM1557 1216.1h11.6v11.6h-11.6zM1557 1222h11.6v11.6h-11.6zM1574.5 1227.9h11.6v11.6h-11.6zM1574.5 1233.8h11.6v11.6h-11.6zM1574.5 1239.7h11.6v11.6h-11.6zM1584 1245.6h11.6v11.6h-11.6zM1597.8 1251.5h11.6v11.6h-11.6zM1597.8 1257.4h11.6v11.6h-11.6zM1605.4 1263.4h11.6v11.6h-11.6zM1605.4 1269.3h11.6v11.6h-11.6zM1618.2 1275.2h11.6v11.6h-11.6zM1618.2 1281.1h11.6v11.6h-11.6zM1622.6 1287h11.6v11.6h-11.6zM1622.6 1292.9h11.6v11.6h-11.6zM1625.9 1298.8h11.6v11.6h-11.6zM1625.9 1304.7h11.6v11.6h-11.6zM1630.2 1310.6h11.6v11.6h-11.6zM1630.2 1316.5h11.6v11.6h-11.6zM1632.4 1322.4h11.6v11.6h-11.6zM1632.4 1328.3h11.6v11.6h-11.6zM1637.7 1334.2h11.6v11.6h-11.6zM1659 1340.1h11.6v11.6h-11.6zM1659.7 1346h11.6v11.6h-11.6zM1661.2 1351.9h11.6v11.6h-11.6zM1662.2 1357.9h11.6v11.6h-11.6zM1663.5 1363.8h11.6v11.6h-11.6zM1663.5 1369.7h11.6v11.6h-11.6zM1663.5 1375.6h11.6v11.6h-11.6zM1663.5 1381.5h11.6v11.6h-11.6zM1664.2 1387.4h11.6v11.6h-11.6zM1670.7 1393.3h11.6v11.6h-11.6zM1670.7 1399.2h11.6v11.6h-11.6zM1674 1405.1h11.6v11.6h-11.6zM1674 1411h11.6v11.6h-11.6zM1674 1416.9h11.6v11.6h-11.6zM1688.2 1422.8h11.6v11.6h-11.6zM1688.2 1428.7h11.6v11.6h-11.6zM1692.9 1434.6h11.6v11.6h-11.6zM1692.9 1440.5h11.6v11.6h-11.6zM1694.7 1446.5h11.6v11.6h-11.6zM1694.7 1452.4h11.6v11.6h-11.6zM1694.7 1458.3h11.6v11.6h-11.6zM1700.2 1464.2h11.6v11.6h-11.6zM1706.7 1470.1h11.6v11.6h-11.6zM1719.7 1476h11.6v11.6h-11.6zM1722.6 1481.9h11.6v11.6h-11.6zM1739.8 1487.8h11.6v11.6h-11.6zM1739.8 1493.7h11.6v11.6h-11.6zM1742.9 1499.6h11.6v11.6h-11.6zM1746.5 1505.5h11.6v11.6h-11.6zM1752.1 1511.4h11.6v11.6h-11.6zM1757.2 1517.3h11.6v11.6h-11.6zM1772.6 1523.2h11.6v11.6h-11.6zM1787.2 1529.1h11.6v11.6h-11.6z"/>
<rect x="130.4" y="169" width="13.5" height="55" fill="#c0504d"/>
<path fill="#4a7ebb" d="M343 1156.9l6.1-6 6.1 6-6.1 6z"/>
<rect x="343.6" y="1258.6" width="11.6" height="11.6" fill="#c0504d"/>
<g style="font-family:'Liberation Sans',Arial,sans-serif" font-weight="bold" font-size="49.8" lengthAdjust="spacingAndGlyphs">
<text x="377.9" y="1175.4" textLength="306" lengthAdjust="spacingAndGlyphs">random walk</text>
<text x="379.3" y="1280.3" textLength="218.6" lengthAdjust="spacingAndGlyphs">observed</text>
</g>
<rect x="1568.9" y="1.2" width="929.6" height="762.6" fill="#fff"/>
<path d="M1568.9 0V765.1M1567.6 1.3H2500M2498.6 0V765.1M1567.6 763.8H2500" fill="none" stroke="#0c0c0c" stroke-width="2.6"/>
<path d="M1598 31H1656" stroke="#e4e4e4" stroke-width="2"/>
<path d="M1603 12.7H1607M1645.6 20V26M1604 47V67M1658.5 54H1668.6" stroke="#ebebeb" stroke-width="1.2"/>
<g stroke="#a3a3a3" stroke-width="1.6" fill="none">
<path d="M1667.7 90V651.5M1659 651.5H2401.4"/>
<path d="M1658.5 253.7H1667.7M1658.5 452.6H1667.7"/>
<path d="M1667.7 651.5V660.7M1790 651.5V660.7M1912.3 651.5V660.7M2034.6 651.5V660.7M2156.8 651.5V660.7M2279.1 651.5V660.7M2401.4 651.5V660.7"/>
</g>
<g style="font-family:'Liberation Sans',Arial,sans-serif" font-size="24.4" text-anchor="end">
<text x="1643.2" y="660.3">1</text>
<text x="1643.2" y="461.4">10</text>
<text x="1643.2" y="262.5">100</text>
</g>
<g style="font-family:'Liberation Sans',Arial,sans-serif" font-size="24.4" text-anchor="middle">
<text x="1667.7" y="702.5">0</text>
<text x="1790" y="702.5">20000</text>
<text x="1912.3" y="702.5">40000</text>
<text x="2034.6" y="702.5">60000</text>
<text x="2156.8" y="702.5">80000</text>
<text x="2279.1" y="702.5">100000</text>
<text x="2401.4" y="702.5">120000</text>
</g>
<text x="1615.5" y="63.5" style="font-family:'Liberation Sans',Arial,sans-serif" font-weight="bold" font-size="32.4">N</text>
<text x="2049.6" y="752.8" style="font-family:'Liberation Sans',Arial,sans-serif" font-weight="bold" font-size="32.8" text-anchor="middle" textLength="272.3" lengthAdjust="spacingAndGlyphs">SNP distance [bp]</text>
<path d="M1668.3 181.4L2279.1 486.5" stroke="#4679bb" stroke-width="5.0" fill="none"/>
<path fill="#4679bb" d="M2275.5 486.5l3.6-3.6 3.6 3.6-3.6 3.6z"/>
<path fill="#c0504d" d="M1664.9 178.6h5.6v5.6h-5.6zM1664.9 179h5.6v5.6h-5.6zM1664.9 179.3h5.6v5.6h-5.6zM1664.9 179.7h5.6v5.6h-5.6zM1664.9 180.1h5.6v5.6h-5.6zM1664.9 180.5h5.6v5.6h-5.6zM1664.9 180.9h5.6v5.6h-5.6zM1664.9 181.2h5.6v5.6h-5.6zM1664.9 181.6h5.6v5.6h-5.6zM1664.9 182h5.6v5.6h-5.6zM1664.9 182.4h5.6v5.6h-5.6zM1664.9 182.8h5.6v5.6h-5.6zM1664.9 183.2h5.6v5.6h-5.6zM1664.9 183.6h5.6v5.6h-5.6zM1664.9 184h5.6v5.6h-5.6zM1664.9 184.4h5.6v5.6h-5.6zM1664.9 184.8h5.6v5.6h-5.6zM1664.9 185.2h5.6v5.6h-5.6zM1664.9 185.6h5.6v5.6h-5.6zM1664.9 186h5.6v5.6h-5.6zM1664.9 186.4h5.6v5.6h-5.6zM1664.9 186.8h5.6v5.6h-5.6zM1664.9 187.2h5.6v5.6h-5.6zM1664.9 187.6h5.6v5.6h-5.6zM1664.9 188.1h5.6v5.6h-5.6zM1664.9 188.5h5.6v5.6h-5.6zM1664.9 188.9h5.6v5.6h-5.6zM1664.9 189.3h5.6v5.6h-5.6zM1664.9 189.7h5.6v5.6h-5.6zM1664.9 190.2h5.6v5.6h-5.6zM1664.9 190.6h5.6v5.6h-5.6zM1664.9 191h5.6v5.6h-5.6zM1664.9 191.5h5.6v5.6h-5.6zM1664.9 191.9h5.6v5.6h-5.6zM1664.9 192.3h5.6v5.6h-5.6zM1664.9 192.8h5.6v5.6h-5.6zM1665 193.2h5.6v5.6h-5.6zM1665 193.7h5.6v5.6h-5.6zM1665 194.1h5.6v5.6h-5.6zM1665 194.6h5.6v5.6h-5.6zM1665 195h5.6v5.6h-5.6zM1665 195.5h5.6v5.6h-5.6zM1665 195.9h5.6v5.6h-5.6zM1665 196.4h5.6v5.6h-5.6zM1665 196.8h5.6v5.6h-5.6zM1665 197.3h5.6v5.6h-5.6zM1665 197.8h5.6v5.6h-5.6zM1665 198.2h5.6v5.6h-5.6zM1665 198.7h5.6v5.6h-5.6zM1665 199.2h5.6v5.6h-5.6zM1665 199.6h5.6v5.6h-5.6zM1665 200.1h5.6v5.6h-5.6zM1665 200.6h5.6v5.6h-5.6zM1665 201.1h5.6v5.6h-5.6zM1665 201.6h5.6v5.6h-5.6zM1665 202.1h5.6v5.6h-5.6zM1665 202.6h5.6v5.6h-5.6zM1665 203.1h5.6v5.6h-5.6zM1665 203.6h5.6v5.6h-5.6zM1665 204.1h5.6v5.6h-5.6zM1665 204.6h5.6v5.6h-5.6zM1665 205.1h5.6v5.6h-5.6zM1665 205.6h5.6v5.6h-5.6zM1665 206.1h5.6v5.6h-5.6zM1665 206.6h5.6v5.6h-5.6zM1665 207.1h5.6v5.6h-5.6zM1665 207.6h5.6v5.6h-5.6zM1665 208.2h5.6v5.6h-5.6zM1665 208.7h5.6v5.6h-5.6zM1665 209.2h5.6v5.6h-5.6zM1665 209.8h5.6v5.6h-5.6zM1665 210.3h5.6v5.6h-5.6zM1665 210.8h5.6v5.6h-5.6zM1665 211.4h5.6v5.6h-5.6zM1665 211.9h5.6v5.6h-5.6zM1665 212.5h5.6v5.6h-5.6zM1665 213h5.6v5.6h-5.6zM1665 213.6h5.6v5.6h-5.6zM1665 214.2h5.6v5.6h-5.6zM1665 214.7h5.6v5.6h-5.6zM1665 215.3h5.6v5.6h-5.6zM1665.1 215.9h5.6v5.6h-5.6zM1665.1 216.5h5.6v5.6h-5.6zM1665.1 217h5.6v5.6h-5.6zM1665.1 217.6h5.6v5.6h-5.6zM1665.1 218.2h5.6v5.6h-5.6zM1665.1 218.8h5.6v5.6h-5.6zM1665.1 219.4h5.6v5.6h-5.6zM1665.1 220h5.6v5.6h-5.6zM1665.1 220.6h5.6v5.6h-5.6zM1665.1 221.2h5.6v5.6h-5.6zM1665.1 221.8h5.6v5.6h-5.6zM1665.1 222.5h5.6v5.6h-5.6zM1665.1 223.1h5.6v5.6h-5.6zM1665.1 223.7h5.6v5.6h-5.6zM1665.1 224.3h5.6v5.6h-5.6zM1665.1 225h5.6v5.6h-5.6zM1665.1 225.6h5.6v5.6h-5.6zM1665.1 226.3h5.6v5.6h-5.6zM1665.1 226.9h5.6v5.6h-5.6zM1665.1 227.6h5.6v5.6h-5.6zM1665.1 228.2h5.6v5.6h-5.6zM1665.1 228.9h5.6v5.6h-5.6zM1665.1 229.6h5.6v5.6h-5.6zM1665.1 230.3h5.6v5.6h-5.6zM1665.1 230.9h5.6v5.6h-5.6zM1665.1 231.6h5.6v5.6h-5.6zM1665.2 232.3h5.6v5.6h-5.6zM1665.2 233h5.6v5.6h-5.6zM1665.2 233.7h5.6v5.6h-5.6zM1665.2 234.4h5.6v5.6h-5.6zM1665.2 235.2h5.6v5.6h-5.6zM1665.2 235.9h5.6v5.6h-5.6zM1665.2 236.6h5.6v5.6h-5.6zM1665.2 237.3h5.6v5.6h-5.6zM1665.2 238.1h5.6v5.6h-5.6zM1665.2 238.8h5.6v5.6h-5.6zM1665.2 239.6h5.6v5.6h-5.6zM1665.2 240.3h5.6v5.6h-5.6zM1665.3 241.1h5.6v5.6h-5.6zM1665.3 241.9h5.6v5.6h-5.6zM1665.3 242.7h5.6v5.6h-5.6zM1665.3 243.5h5.6v5.6h-5.6zM1665.3 244.3h5.6v5.6h-5.6zM1665.4 245.1h5.6v5.6h-5.6zM1665.4 245.9h5.6v5.6h-5.6zM1665.5 246.7h5.6v5.6h-5.6zM1665.6 247.5h5.6v5.6h-5.6zM1665.6 248.3h5.6v5.6h-5.6zM1665.6 249.2h5.6v5.6h-5.6zM1665.7 250h5.6v5.6h-5.6zM1665.7 250.9h5.6v5.6h-5.6zM1665.7 251.8h5.6v5.6h-5.6zM1665.7 252.6h5.6v5.6h-5.6zM1665.7 253.5h5.6v5.6h-5.6zM1665.8 254.4h5.6v5.6h-5.6zM1665.9 255.3h5.6v5.6h-5.6zM1665.9 256.2h5.6v5.6h-5.6zM1666 257.2h5.6v5.6h-5.6zM1666.1 258.1h5.6v5.6h-5.6zM1666.1 259h5.6v5.6h-5.6zM1667.2 260h5.6v5.6h-5.6zM1667.7 261h5.6v5.6h-5.6zM1669.5 261.9h5.6v5.6h-5.6zM1669.5 262.9h5.6v5.6h-5.6zM1670.6 263.9h5.6v5.6h-5.6zM1670.6 264.9h5.6v5.6h-5.6zM1672.3 266h5.6v5.6h-5.6zM1672.3 267h5.6v5.6h-5.6zM1673.5 268h5.6v5.6h-5.6zM1675.2 269.1h5.6v5.6h-5.6zM1675.2 270.2h5.6v5.6h-5.6zM1677.5 271.3h5.6v5.6h-5.6zM1677.5 272.4h5.6v5.6h-5.6zM1680.5 273.5h5.6v5.6h-5.6zM1685.5 274.6h5.6v5.6h-5.6zM1694.3 275.8h5.6v5.6h-5.6zM1694.3 276.9h5.6v5.6h-5.6zM1701 278.1h5.6v5.6h-5.6zM1701 279.3h5.6v5.6h-5.6zM1705.2 280.5h5.6v5.6h-5.6zM1705.2 281.7h5.6v5.6h-5.6zM1705.2 283h5.6v5.6h-5.6zM1706 284.2h5.6v5.6h-5.6zM1706 285.5h5.6v5.6h-5.6zM1706 286.8h5.6v5.6h-5.6zM1712.3 288.1h5.6v5.6h-5.6zM1712.3 289.5h5.6v5.6h-5.6zM1714.7 290.8h5.6v5.6h-5.6zM1714.7 292.2h5.6v5.6h-5.6zM1731.7 293.6h5.6v5.6h-5.6zM1731.7 295h5.6v5.6h-5.6zM1737.2 296.5h5.6v5.6h-5.6zM1737.2 298h5.6v5.6h-5.6zM1767 299.5h5.6v5.6h-5.6zM1767 301h5.6v5.6h-5.6zM1769.7 302.5h5.6v5.6h-5.6zM1769.7 304.1h5.6v5.6h-5.6zM1769.7 305.7h5.6v5.6h-5.6zM1783 307.4h5.6v5.6h-5.6zM1783 309.1h5.6v5.6h-5.6zM1783 310.8h5.6v5.6h-5.6zM1791 312.5h5.6v5.6h-5.6zM1803.4 314.3h5.6v5.6h-5.6zM1803.4 316.1h5.6v5.6h-5.6zM1810.8 318h5.6v5.6h-5.6zM1810.8 319.9h5.6v5.6h-5.6zM1824.2 321.8h5.6v5.6h-5.6zM1824.2 323.8h5.6v5.6h-5.6zM1829.1 325.8h5.6v5.6h-5.6zM1829.1 327.9h5.6v5.6h-5.6zM1832.8 330.1h5.6v5.6h-5.6zM1832.8 332.2h5.6v5.6h-5.6zM1837.8 334.5h5.6v5.6h-5.6zM1837.8 336.8h5.6v5.6h-5.6zM1840.4 339.2h5.6v5.6h-5.6zM1840.4 341.6h5.6v5.6h-5.6zM1846.9 344.1h5.6v5.6h-5.6zM1875.5 346.7h5.6v5.6h-5.6zM1876.5 349.3h5.6v5.6h-5.6zM1878.7 352.1h5.6v5.6h-5.6zM1880.1 354.9h5.6v5.6h-5.6zM1882.1 357.8h5.6v5.6h-5.6zM1882.1 360.9h5.6v5.6h-5.6zM1882.1 364h5.6v5.6h-5.6zM1882.1 367.3h5.6v5.6h-5.6zM1883.1 370.6h5.6v5.6h-5.6zM1893 374.2h5.6v5.6h-5.6zM1893 377.9h5.6v5.6h-5.6zM1898.2 381.7h5.6v5.6h-5.6zM1898.2 385.7h5.6v5.6h-5.6zM1898.2 389.9h5.6v5.6h-5.6zM1922.1 394.4h5.6v5.6h-5.6zM1922.1 399h5.6v5.6h-5.6zM1930.5 404h5.6v5.6h-5.6zM1930.5 409.2h5.6v5.6h-5.6zM1933.7 414.8h5.6v5.6h-5.6zM1933.7 420.7h5.6v5.6h-5.6zM1933.7 427.1h5.6v5.6h-5.6zM1944.1 434.1h5.6v5.6h-5.6zM1956.8 441.6h5.6v5.6h-5.6zM1983.9 449.8h5.6v5.6h-5.6zM1990.3 458.9h5.6v5.6h-5.6zM2030.9 469.1h5.6v5.6h-5.6zM2030.9 480.6h5.6v5.6h-5.6zM2038.8 493.9h5.6v5.6h-5.6zM2048.1 509.7h5.6v5.6h-5.6zM2063.1 529h5.6v5.6h-5.6zM2077.2 553.8h5.6v5.6h-5.6zM2123 588.8h5.6v5.6h-5.6zM2171.2 648.7h5.6v5.6h-5.6z"/>
<path fill="#4a7ebb" d="M2095.7 221.7l3-3 3 3-3 3z"/>
<rect x="2095.9" y="268.4" width="5.8" height="5.8" fill="#c0504d"/>
<g style="font-family:'Liberation Sans',Arial,sans-serif" font-weight="bold" font-size="25.5">
<text x="2112.2" y="230.5" textLength="142.8" lengthAdjust="spacingAndGlyphs">random walk</text>
<text x="2113" y="279.3" textLength="103.2" lengthAdjust="spacingAndGlyphs">observed</text>
</g>
</svg>
</body></html>
